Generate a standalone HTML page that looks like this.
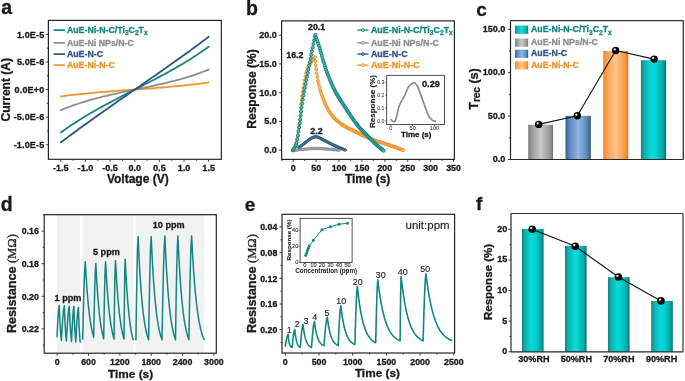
<!DOCTYPE html>
<html><head><meta charset="utf-8"><style>
html,body{margin:0;padding:0;background:#fff;width:685px;height:381px;overflow:hidden;}
svg{display:block;will-change:transform;font-family:"Liberation Sans",sans-serif;}
</style></head><body>
<svg width="685" height="381" viewBox="0 0 685 381" font-family="Liberation Sans, sans-serif"><defs><linearGradient id="gTeal" x1="0" y1="0" x2="1" y2="0"><stop offset="0" stop-color="#0b7f7f"/><stop offset="0.12" stop-color="#18a8a8"/><stop offset="0.42" stop-color="#00dcdc"/><stop offset="0.6" stop-color="#00d2d2"/><stop offset="0.88" stop-color="#00a5a5"/><stop offset="1" stop-color="#087070"/></linearGradient><linearGradient id="gGray" x1="0" y1="0" x2="1" y2="0"><stop offset="0" stop-color="#7c7c7c"/><stop offset="0.15" stop-color="#9a9a9a"/><stop offset="0.5" stop-color="#cacaca"/><stop offset="0.85" stop-color="#999999"/><stop offset="1" stop-color="#767676"/></linearGradient><linearGradient id="gBlue" x1="0" y1="0" x2="1" y2="0"><stop offset="0" stop-color="#3a5e8c"/><stop offset="0.15" stop-color="#5a86b8"/><stop offset="0.5" stop-color="#8fb6e0"/><stop offset="0.85" stop-color="#5d88b8"/><stop offset="1" stop-color="#2f5480"/></linearGradient><linearGradient id="gOrange" x1="0" y1="0" x2="1" y2="0"><stop offset="0" stop-color="#f38520"/><stop offset="0.15" stop-color="#f9a050"/><stop offset="0.5" stop-color="#ffc58e"/><stop offset="0.85" stop-color="#f99a45"/><stop offset="1" stop-color="#f07c14"/></linearGradient><radialGradient id="gBall" cx="0.4" cy="0.38" r="0.6" fx="0.36" fy="0.34"><stop offset="0" stop-color="#ffffff"/><stop offset="0.12" stop-color="#e8e8e8"/><stop offset="0.34" stop-color="#1a1a1a"/><stop offset="0.55" stop-color="#000"/><stop offset="1" stop-color="#000"/></radialGradient></defs><rect width="685" height="381" fill="#fff"/><text x="1.30" y="13.80" font-size="19.5" font-weight="bold" text-anchor="start" fill="#1a1a1a" stroke="#1a1a1a" stroke-width="0.3" >a</text>
<rect x="48.40" y="20.40" width="172.90" height="138.90" fill="none" stroke="#262626" stroke-width="1.2"/>
<line x1="45.90" y1="144.80" x2="48.40" y2="144.80" stroke="#262626" stroke-width="0.9" />
<line x1="45.90" y1="117.20" x2="48.40" y2="117.20" stroke="#262626" stroke-width="0.9" />
<line x1="45.90" y1="89.60" x2="48.40" y2="89.60" stroke="#262626" stroke-width="0.9" />
<line x1="45.90" y1="62.00" x2="48.40" y2="62.00" stroke="#262626" stroke-width="0.9" />
<line x1="45.90" y1="34.40" x2="48.40" y2="34.40" stroke="#262626" stroke-width="0.9" />
<line x1="46.90" y1="131.00" x2="48.40" y2="131.00" stroke="#262626" stroke-width="0.9" />
<line x1="46.90" y1="103.40" x2="48.40" y2="103.40" stroke="#262626" stroke-width="0.9" />
<line x1="46.90" y1="75.80" x2="48.40" y2="75.80" stroke="#262626" stroke-width="0.9" />
<line x1="46.90" y1="48.20" x2="48.40" y2="48.20" stroke="#262626" stroke-width="0.9" />
<text x="44.30" y="147.90" font-size="9.0" font-weight="bold" text-anchor="end" fill="#1a1a1a" stroke="#1a1a1a" stroke-width="0.3" letter-spacing="0.15">-1.0E-5</text>
<text x="44.30" y="120.30" font-size="9.0" font-weight="bold" text-anchor="end" fill="#1a1a1a" stroke="#1a1a1a" stroke-width="0.3" letter-spacing="0.15">-5.0E-6</text>
<text x="44.30" y="92.70" font-size="9.0" font-weight="bold" text-anchor="end" fill="#1a1a1a" stroke="#1a1a1a" stroke-width="0.3" letter-spacing="0.15">0.0E+0</text>
<text x="44.30" y="65.10" font-size="9.0" font-weight="bold" text-anchor="end" fill="#1a1a1a" stroke="#1a1a1a" stroke-width="0.3" letter-spacing="0.15">5.0E-6</text>
<text x="44.30" y="37.50" font-size="9.0" font-weight="bold" text-anchor="end" fill="#1a1a1a" stroke="#1a1a1a" stroke-width="0.3" letter-spacing="0.15">1.0E-5</text>
<line x1="60.80" y1="159.30" x2="60.80" y2="161.80" stroke="#262626" stroke-width="0.9" />
<line x1="85.45" y1="159.30" x2="85.45" y2="161.80" stroke="#262626" stroke-width="0.9" />
<line x1="110.10" y1="159.30" x2="110.10" y2="161.80" stroke="#262626" stroke-width="0.9" />
<line x1="134.75" y1="159.30" x2="134.75" y2="161.80" stroke="#262626" stroke-width="0.9" />
<line x1="159.40" y1="159.30" x2="159.40" y2="161.80" stroke="#262626" stroke-width="0.9" />
<line x1="184.05" y1="159.30" x2="184.05" y2="161.80" stroke="#262626" stroke-width="0.9" />
<line x1="208.70" y1="159.30" x2="208.70" y2="161.80" stroke="#262626" stroke-width="0.9" />
<line x1="73.12" y1="159.30" x2="73.12" y2="160.80" stroke="#262626" stroke-width="0.9" />
<line x1="97.78" y1="159.30" x2="97.78" y2="160.80" stroke="#262626" stroke-width="0.9" />
<line x1="122.42" y1="159.30" x2="122.42" y2="160.80" stroke="#262626" stroke-width="0.9" />
<line x1="147.07" y1="159.30" x2="147.07" y2="160.80" stroke="#262626" stroke-width="0.9" />
<line x1="171.72" y1="159.30" x2="171.72" y2="160.80" stroke="#262626" stroke-width="0.9" />
<line x1="196.38" y1="159.30" x2="196.38" y2="160.80" stroke="#262626" stroke-width="0.9" />
<text x="60.80" y="171.00" font-size="9.1" font-weight="bold" text-anchor="middle" fill="#1a1a1a" stroke="#1a1a1a" stroke-width="0.3" >-1.5</text>
<text x="85.45" y="171.00" font-size="9.1" font-weight="bold" text-anchor="middle" fill="#1a1a1a" stroke="#1a1a1a" stroke-width="0.3" >-1.0</text>
<text x="110.10" y="171.00" font-size="9.1" font-weight="bold" text-anchor="middle" fill="#1a1a1a" stroke="#1a1a1a" stroke-width="0.3" >-0.5</text>
<text x="134.75" y="171.00" font-size="9.1" font-weight="bold" text-anchor="middle" fill="#1a1a1a" stroke="#1a1a1a" stroke-width="0.3" >0.0</text>
<text x="159.40" y="171.00" font-size="9.1" font-weight="bold" text-anchor="middle" fill="#1a1a1a" stroke="#1a1a1a" stroke-width="0.3" >0.5</text>
<text x="184.05" y="171.00" font-size="9.1" font-weight="bold" text-anchor="middle" fill="#1a1a1a" stroke="#1a1a1a" stroke-width="0.3" >1.0</text>
<text x="208.70" y="171.00" font-size="9.1" font-weight="bold" text-anchor="middle" fill="#1a1a1a" stroke="#1a1a1a" stroke-width="0.3" >1.5</text>
<text x="137.80" y="182.80" font-size="12" font-weight="bold" text-anchor="middle" fill="#1a1a1a" stroke="#1a1a1a" stroke-width="0.3" >Voltage (V)</text>
<text x="10.00" y="89.80" font-size="12" font-weight="bold" text-anchor="middle" fill="#1a1a1a" stroke="#1a1a1a" stroke-width="0.3" transform="rotate(-90 10.0 89.8)">Current (A)</text>
<path d="M60.80,96.38 L63.27,96.06 L65.73,95.75 L68.19,95.45 L70.66,95.16 L73.12,94.87 L75.59,94.60 L78.06,94.33 L80.52,94.07 L82.98,93.82 L85.45,93.57 L87.92,93.33 L90.38,93.10 L92.84,92.87 L95.31,92.65 L97.78,92.43 L100.24,92.22 L102.70,92.01 L105.17,91.81 L107.63,91.61 L110.10,91.42 L112.56,91.23 L115.03,91.04 L117.50,90.85 L119.96,90.67 L122.42,90.49 L124.89,90.31 L127.36,90.13 L129.82,89.95 L132.28,89.78 L134.75,89.60 L137.22,89.41 L139.68,89.23 L142.14,89.04 L144.61,88.86 L147.07,88.67 L149.54,88.48 L152.00,88.28 L154.47,88.09 L156.94,87.89 L159.40,87.69 L161.86,87.49 L164.33,87.28 L166.79,87.07 L169.26,86.85 L171.72,86.63 L174.19,86.40 L176.66,86.17 L179.12,85.93 L181.59,85.69 L184.05,85.44 L186.51,85.18 L188.98,84.91 L191.44,84.64 L193.91,84.36 L196.38,84.07 L198.84,83.77 L201.31,83.46 L203.77,83.15 L206.24,82.82 L208.70,82.48" fill="none" stroke="#f39427" stroke-width="1.8" stroke-linejoin="round" stroke-linecap="round" />
<path d="M60.80,110.17 L63.27,109.16 L65.73,108.18 L68.19,107.24 L70.66,106.32 L73.12,105.43 L75.59,104.58 L78.06,103.75 L80.52,102.94 L82.98,102.16 L85.45,101.41 L87.92,100.68 L90.38,99.97 L92.84,99.28 L95.31,98.61 L97.78,97.96 L100.24,97.32 L102.70,96.70 L105.17,96.10 L107.63,95.51 L110.10,94.93 L112.56,94.37 L115.03,93.81 L117.50,93.27 L119.96,92.73 L122.42,92.20 L124.89,91.67 L127.36,91.15 L129.82,90.63 L132.28,90.11 L134.75,89.60 L137.22,89.10 L139.68,88.60 L142.14,88.09 L144.61,87.59 L147.07,87.07 L149.54,86.56 L152.00,86.03 L154.47,85.50 L156.94,84.96 L159.40,84.41 L161.86,83.85 L164.33,83.27 L166.79,82.69 L169.26,82.09 L171.72,81.47 L174.19,80.83 L176.66,80.18 L179.12,79.51 L181.59,78.82 L184.05,78.11 L186.51,77.38 L188.98,76.62 L191.44,75.84 L193.91,75.03 L196.38,74.19 L198.84,73.33 L201.31,72.44 L203.77,71.52 L206.24,70.57 L208.70,69.58" fill="none" stroke="#8e8e8e" stroke-width="1.8" stroke-linejoin="round" stroke-linecap="round" />
<path d="M60.80,132.41 L63.27,130.66 L65.73,128.94 L68.19,127.25 L70.66,125.60 L73.12,123.97 L75.59,122.37 L78.06,120.80 L80.52,119.25 L82.98,117.73 L85.45,116.24 L87.92,114.77 L90.38,113.31 L92.84,111.88 L95.31,110.47 L97.78,109.08 L100.24,107.70 L102.70,106.34 L105.17,105.00 L107.63,103.67 L110.10,102.35 L112.56,101.04 L115.03,99.74 L117.50,98.46 L119.96,97.18 L122.42,95.90 L124.89,94.64 L127.36,93.37 L129.82,92.11 L132.28,90.86 L134.75,89.60 L137.22,88.34 L139.68,87.09 L142.14,85.83 L144.61,84.56 L147.07,83.30 L149.54,82.02 L152.00,80.74 L154.47,79.46 L156.94,78.16 L159.40,76.85 L161.86,75.53 L164.33,74.20 L166.79,72.86 L169.26,71.50 L171.72,70.12 L174.19,68.73 L176.66,67.32 L179.12,65.89 L181.59,64.43 L184.05,62.96 L186.51,61.47 L188.98,59.95 L191.44,58.40 L193.91,56.83 L196.38,55.23 L198.84,53.60 L201.31,51.95 L203.77,50.26 L206.24,48.54 L208.70,46.79" fill="none" stroke="#148580" stroke-width="1.8" stroke-linejoin="round" stroke-linecap="round" />
<path d="M60.80,142.42 L63.27,140.56 L65.73,138.71 L68.19,136.87 L70.66,135.04 L73.12,133.21 L75.59,131.40 L78.06,129.59 L80.52,127.80 L82.98,126.01 L85.45,124.23 L87.92,122.45 L90.38,120.68 L92.84,118.92 L95.31,117.17 L97.78,115.42 L100.24,113.67 L102.70,111.93 L105.17,110.20 L107.63,108.46 L110.10,106.74 L112.56,105.01 L115.03,103.29 L117.50,101.58 L119.96,99.86 L122.42,98.15 L124.89,96.44 L127.36,94.73 L129.82,93.02 L132.28,91.31 L134.75,89.60 L137.22,87.89 L139.68,86.18 L142.14,84.47 L144.61,82.76 L147.07,81.05 L149.54,79.34 L152.00,77.62 L154.47,75.91 L156.94,74.19 L159.40,72.46 L161.86,70.74 L164.33,69.00 L166.79,67.27 L169.26,65.53 L171.72,63.78 L174.19,62.03 L176.66,60.28 L179.12,58.52 L181.59,56.75 L184.05,54.97 L186.51,53.19 L188.98,51.40 L191.44,49.61 L193.91,47.80 L196.38,45.99 L198.84,44.16 L201.31,42.33 L203.77,40.49 L206.24,38.64 L208.70,36.78" fill="none" stroke="#2f5480" stroke-width="1.8" stroke-linejoin="round" stroke-linecap="round" />
<line x1="53.60" y1="30.10" x2="64.90" y2="30.10" stroke="#148580" stroke-width="1.7" />
<text x="66.90" y="32.70" font-size="8.8" font-weight="bold" text-anchor="start" fill="#148580" stroke="#148580" stroke-width="0.3" >AuE-Ni-N-C/Ti<tspan font-size="6.6" dy="2.5">3</tspan><tspan dy="-2.5">C</tspan><tspan font-size="6.6" dy="2.5">2</tspan><tspan dy="-2.5">T</tspan><tspan font-size="6.6" dy="2.5">x</tspan></text>
<line x1="53.60" y1="42.90" x2="64.90" y2="42.90" stroke="#8e8e8e" stroke-width="1.7" />
<text x="66.90" y="45.50" font-size="8.8" font-weight="bold" text-anchor="start" fill="#8e8e8e" stroke="#8e8e8e" stroke-width="0.3" >AuE-Ni NPs/N-C</text>
<line x1="53.60" y1="54.10" x2="64.90" y2="54.10" stroke="#2f5480" stroke-width="1.7" />
<text x="66.90" y="56.70" font-size="8.8" font-weight="bold" text-anchor="start" fill="#2f5480" stroke="#2f5480" stroke-width="0.3" >AuE-N-C</text>
<line x1="53.60" y1="65.10" x2="64.90" y2="65.10" stroke="#f39427" stroke-width="1.7" />
<text x="66.90" y="67.70" font-size="8.8" font-weight="bold" text-anchor="start" fill="#f39427" stroke="#f39427" stroke-width="0.3" >AuE-Ni-N-C</text>
<text x="246.00" y="14.70" font-size="19.5" font-weight="bold" text-anchor="start" fill="#1a1a1a" stroke="#1a1a1a" stroke-width="0.3" >b</text>
<rect x="281.60" y="20.90" width="172.80" height="138.50" fill="none" stroke="#262626" stroke-width="1.2"/>
<line x1="279.10" y1="150.20" x2="281.60" y2="150.20" stroke="#262626" stroke-width="0.9" />
<line x1="279.10" y1="121.45" x2="281.60" y2="121.45" stroke="#262626" stroke-width="0.9" />
<line x1="279.10" y1="92.70" x2="281.60" y2="92.70" stroke="#262626" stroke-width="0.9" />
<line x1="279.10" y1="63.95" x2="281.60" y2="63.95" stroke="#262626" stroke-width="0.9" />
<line x1="279.10" y1="35.20" x2="281.60" y2="35.20" stroke="#262626" stroke-width="0.9" />
<line x1="280.10" y1="135.82" x2="281.60" y2="135.82" stroke="#262626" stroke-width="0.9" />
<line x1="280.10" y1="107.07" x2="281.60" y2="107.07" stroke="#262626" stroke-width="0.9" />
<line x1="280.10" y1="78.32" x2="281.60" y2="78.32" stroke="#262626" stroke-width="0.9" />
<line x1="280.10" y1="49.57" x2="281.60" y2="49.57" stroke="#262626" stroke-width="0.9" />
<text x="276.80" y="153.20" font-size="9" font-weight="bold" text-anchor="end" fill="#1a1a1a" stroke="#1a1a1a" stroke-width="0.3" >0.0</text>
<text x="276.80" y="124.45" font-size="9" font-weight="bold" text-anchor="end" fill="#1a1a1a" stroke="#1a1a1a" stroke-width="0.3" >5.0</text>
<text x="276.80" y="95.70" font-size="9" font-weight="bold" text-anchor="end" fill="#1a1a1a" stroke="#1a1a1a" stroke-width="0.3" >10.0</text>
<text x="276.80" y="66.95" font-size="9" font-weight="bold" text-anchor="end" fill="#1a1a1a" stroke="#1a1a1a" stroke-width="0.3" >15.0</text>
<text x="276.80" y="38.20" font-size="9" font-weight="bold" text-anchor="end" fill="#1a1a1a" stroke="#1a1a1a" stroke-width="0.3" >20.0</text>
<line x1="293.25" y1="159.40" x2="293.25" y2="161.90" stroke="#262626" stroke-width="0.9" />
<line x1="316.15" y1="159.40" x2="316.15" y2="161.90" stroke="#262626" stroke-width="0.9" />
<line x1="339.05" y1="159.40" x2="339.05" y2="161.90" stroke="#262626" stroke-width="0.9" />
<line x1="361.95" y1="159.40" x2="361.95" y2="161.90" stroke="#262626" stroke-width="0.9" />
<line x1="384.85" y1="159.40" x2="384.85" y2="161.90" stroke="#262626" stroke-width="0.9" />
<line x1="407.75" y1="159.40" x2="407.75" y2="161.90" stroke="#262626" stroke-width="0.9" />
<line x1="430.65" y1="159.40" x2="430.65" y2="161.90" stroke="#262626" stroke-width="0.9" />
<line x1="453.55" y1="159.40" x2="453.55" y2="161.90" stroke="#262626" stroke-width="0.9" />
<line x1="281.80" y1="159.40" x2="281.80" y2="160.90" stroke="#262626" stroke-width="0.9" />
<line x1="304.70" y1="159.40" x2="304.70" y2="160.90" stroke="#262626" stroke-width="0.9" />
<line x1="327.60" y1="159.40" x2="327.60" y2="160.90" stroke="#262626" stroke-width="0.9" />
<line x1="350.50" y1="159.40" x2="350.50" y2="160.90" stroke="#262626" stroke-width="0.9" />
<line x1="373.40" y1="159.40" x2="373.40" y2="160.90" stroke="#262626" stroke-width="0.9" />
<line x1="396.30" y1="159.40" x2="396.30" y2="160.90" stroke="#262626" stroke-width="0.9" />
<line x1="419.20" y1="159.40" x2="419.20" y2="160.90" stroke="#262626" stroke-width="0.9" />
<line x1="442.10" y1="159.40" x2="442.10" y2="160.90" stroke="#262626" stroke-width="0.9" />
<text x="293.25" y="170.70" font-size="8.9" font-weight="bold" text-anchor="middle" fill="#1a1a1a" stroke="#1a1a1a" stroke-width="0.3" >0</text>
<text x="316.15" y="170.70" font-size="8.9" font-weight="bold" text-anchor="middle" fill="#1a1a1a" stroke="#1a1a1a" stroke-width="0.3" >50</text>
<text x="339.05" y="170.70" font-size="8.9" font-weight="bold" text-anchor="middle" fill="#1a1a1a" stroke="#1a1a1a" stroke-width="0.3" >100</text>
<text x="361.95" y="170.70" font-size="8.9" font-weight="bold" text-anchor="middle" fill="#1a1a1a" stroke="#1a1a1a" stroke-width="0.3" >150</text>
<text x="384.85" y="170.70" font-size="8.9" font-weight="bold" text-anchor="middle" fill="#1a1a1a" stroke="#1a1a1a" stroke-width="0.3" >200</text>
<text x="407.75" y="170.70" font-size="8.9" font-weight="bold" text-anchor="middle" fill="#1a1a1a" stroke="#1a1a1a" stroke-width="0.3" >250</text>
<text x="430.65" y="170.70" font-size="8.9" font-weight="bold" text-anchor="middle" fill="#1a1a1a" stroke="#1a1a1a" stroke-width="0.3" >300</text>
<text x="453.55" y="170.70" font-size="8.9" font-weight="bold" text-anchor="middle" fill="#1a1a1a" stroke="#1a1a1a" stroke-width="0.3" >350</text>
<text x="367.60" y="183.10" font-size="11.9" font-weight="bold" text-anchor="middle" fill="#1a1a1a" stroke="#1a1a1a" stroke-width="0.3" >Time (s)</text>
<text x="255.60" y="89.00" font-size="12" font-weight="bold" text-anchor="middle" fill="#1a1a1a" stroke="#1a1a1a" stroke-width="0.3" transform="rotate(-90 255.6 89.0)">Response (%)</text>
<path d="M293.40,150.60 L293.69,150.56 L294.02,150.51 L294.39,150.45 L294.80,150.38 L295.25,150.30 L295.76,150.22 L296.31,150.14 L296.93,150.06 L297.60,149.97 L298.33,149.88 L299.13,149.79 L300.00,149.70 L300.96,149.60 L302.03,149.49 L303.18,149.37 L304.41,149.25 L305.70,149.12 L307.03,148.99 L308.39,148.87 L309.77,148.76 L311.14,148.67 L312.50,148.59 L313.82,148.53 L315.10,148.50 L316.37,148.50 L317.66,148.52 L318.96,148.55 L320.28,148.61 L321.59,148.68 L322.89,148.76 L324.18,148.85 L325.43,148.94 L326.65,149.04 L327.83,149.13 L328.94,149.22 L330.00,149.30 L331.02,149.38 L332.02,149.47 L333.00,149.56 L333.95,149.66 L334.86,149.75 L335.73,149.85 L336.55,149.94 L337.31,150.03 L338.00,150.12 L338.62,150.19 L339.15,150.25 L339.60,150.30" fill="none" stroke="#8a8a8a" stroke-width="1.6" stroke-linejoin="round" stroke-linecap="round" />
<circle cx="293.40" cy="150.60" r="1.1" fill="#c8c8c8" stroke="#8a8a8a" stroke-width="0.85"/>
<circle cx="294.39" cy="150.45" r="1.1" fill="#c8c8c8" stroke="#8a8a8a" stroke-width="0.85"/>
<circle cx="295.25" cy="150.30" r="1.1" fill="#c8c8c8" stroke="#8a8a8a" stroke-width="0.85"/>
<circle cx="296.03" cy="150.18" r="1.1" fill="#c8c8c8" stroke="#8a8a8a" stroke-width="0.85"/>
<circle cx="296.93" cy="150.06" r="1.1" fill="#c8c8c8" stroke="#8a8a8a" stroke-width="0.85"/>
<circle cx="297.84" cy="149.94" r="1.1" fill="#c8c8c8" stroke="#8a8a8a" stroke-width="0.85"/>
<circle cx="298.73" cy="149.83" r="1.1" fill="#c8c8c8" stroke="#8a8a8a" stroke-width="0.85"/>
<circle cx="299.57" cy="149.74" r="1.1" fill="#c8c8c8" stroke="#8a8a8a" stroke-width="0.85"/>
<circle cx="300.48" cy="149.65" r="1.1" fill="#c8c8c8" stroke="#8a8a8a" stroke-width="0.85"/>
<circle cx="301.17" cy="149.58" r="1.1" fill="#c8c8c8" stroke="#8a8a8a" stroke-width="0.85"/>
<circle cx="302.03" cy="149.49" r="1.1" fill="#c8c8c8" stroke="#8a8a8a" stroke-width="0.85"/>
<circle cx="302.72" cy="149.42" r="1.1" fill="#c8c8c8" stroke="#8a8a8a" stroke-width="0.85"/>
<circle cx="303.59" cy="149.33" r="1.1" fill="#c8c8c8" stroke="#8a8a8a" stroke-width="0.85"/>
<circle cx="304.41" cy="149.25" r="1.1" fill="#c8c8c8" stroke="#8a8a8a" stroke-width="0.85"/>
<circle cx="305.27" cy="149.16" r="1.1" fill="#c8c8c8" stroke="#8a8a8a" stroke-width="0.85"/>
<circle cx="306.14" cy="149.08" r="1.1" fill="#c8c8c8" stroke="#8a8a8a" stroke-width="0.85"/>
<circle cx="307.03" cy="148.99" r="1.1" fill="#c8c8c8" stroke="#8a8a8a" stroke-width="0.85"/>
<circle cx="307.94" cy="148.91" r="1.1" fill="#c8c8c8" stroke="#8a8a8a" stroke-width="0.85"/>
<circle cx="308.85" cy="148.84" r="1.1" fill="#c8c8c8" stroke="#8a8a8a" stroke-width="0.85"/>
<circle cx="309.77" cy="148.76" r="1.1" fill="#c8c8c8" stroke="#8a8a8a" stroke-width="0.85"/>
<circle cx="310.68" cy="148.70" r="1.1" fill="#c8c8c8" stroke="#8a8a8a" stroke-width="0.85"/>
<circle cx="311.59" cy="148.64" r="1.1" fill="#c8c8c8" stroke="#8a8a8a" stroke-width="0.85"/>
<circle cx="312.50" cy="148.59" r="1.1" fill="#c8c8c8" stroke="#8a8a8a" stroke-width="0.85"/>
<circle cx="313.38" cy="148.55" r="1.1" fill="#c8c8c8" stroke="#8a8a8a" stroke-width="0.85"/>
<circle cx="314.25" cy="148.52" r="1.1" fill="#c8c8c8" stroke="#8a8a8a" stroke-width="0.85"/>
<circle cx="315.10" cy="148.50" r="1.1" fill="#c8c8c8" stroke="#8a8a8a" stroke-width="0.85"/>
<circle cx="315.94" cy="148.50" r="1.1" fill="#c8c8c8" stroke="#8a8a8a" stroke-width="0.85"/>
<circle cx="316.80" cy="148.50" r="1.1" fill="#c8c8c8" stroke="#8a8a8a" stroke-width="0.85"/>
<circle cx="317.66" cy="148.52" r="1.1" fill="#c8c8c8" stroke="#8a8a8a" stroke-width="0.85"/>
<circle cx="318.53" cy="148.54" r="1.1" fill="#c8c8c8" stroke="#8a8a8a" stroke-width="0.85"/>
<circle cx="319.40" cy="148.57" r="1.1" fill="#c8c8c8" stroke="#8a8a8a" stroke-width="0.85"/>
<circle cx="320.28" cy="148.61" r="1.1" fill="#c8c8c8" stroke="#8a8a8a" stroke-width="0.85"/>
<circle cx="321.15" cy="148.66" r="1.1" fill="#c8c8c8" stroke="#8a8a8a" stroke-width="0.85"/>
<circle cx="322.03" cy="148.71" r="1.1" fill="#c8c8c8" stroke="#8a8a8a" stroke-width="0.85"/>
<circle cx="322.89" cy="148.76" r="1.1" fill="#c8c8c8" stroke="#8a8a8a" stroke-width="0.85"/>
<circle cx="323.75" cy="148.82" r="1.1" fill="#c8c8c8" stroke="#8a8a8a" stroke-width="0.85"/>
<circle cx="324.60" cy="148.88" r="1.1" fill="#c8c8c8" stroke="#8a8a8a" stroke-width="0.85"/>
<circle cx="325.43" cy="148.94" r="1.1" fill="#c8c8c8" stroke="#8a8a8a" stroke-width="0.85"/>
<circle cx="326.25" cy="149.01" r="1.1" fill="#c8c8c8" stroke="#8a8a8a" stroke-width="0.85"/>
<circle cx="327.12" cy="149.08" r="1.1" fill="#c8c8c8" stroke="#8a8a8a" stroke-width="0.85"/>
<circle cx="327.83" cy="149.13" r="1.1" fill="#c8c8c8" stroke="#8a8a8a" stroke-width="0.85"/>
<circle cx="328.72" cy="149.20" r="1.1" fill="#c8c8c8" stroke="#8a8a8a" stroke-width="0.85"/>
<circle cx="329.58" cy="149.27" r="1.1" fill="#c8c8c8" stroke="#8a8a8a" stroke-width="0.85"/>
<circle cx="330.41" cy="149.33" r="1.1" fill="#c8c8c8" stroke="#8a8a8a" stroke-width="0.85"/>
<circle cx="331.22" cy="149.40" r="1.1" fill="#c8c8c8" stroke="#8a8a8a" stroke-width="0.85"/>
<circle cx="332.02" cy="149.47" r="1.1" fill="#c8c8c8" stroke="#8a8a8a" stroke-width="0.85"/>
<circle cx="332.75" cy="149.54" r="1.1" fill="#c8c8c8" stroke="#8a8a8a" stroke-width="0.85"/>
<circle cx="333.47" cy="149.61" r="1.1" fill="#c8c8c8" stroke="#8a8a8a" stroke-width="0.85"/>
<circle cx="334.18" cy="149.68" r="1.1" fill="#c8c8c8" stroke="#8a8a8a" stroke-width="0.85"/>
<circle cx="335.08" cy="149.78" r="1.1" fill="#c8c8c8" stroke="#8a8a8a" stroke-width="0.85"/>
<circle cx="335.94" cy="149.87" r="1.1" fill="#c8c8c8" stroke="#8a8a8a" stroke-width="0.85"/>
<circle cx="336.80" cy="149.97" r="1.1" fill="#c8c8c8" stroke="#8a8a8a" stroke-width="0.85"/>
<circle cx="337.54" cy="150.06" r="1.1" fill="#c8c8c8" stroke="#8a8a8a" stroke-width="0.85"/>
<circle cx="338.41" cy="150.16" r="1.1" fill="#c8c8c8" stroke="#8a8a8a" stroke-width="0.85"/>
<circle cx="339.15" cy="150.25" r="1.1" fill="#c8c8c8" stroke="#8a8a8a" stroke-width="0.85"/>
<path d="M298.90,147.20 L299.09,147.08 L299.33,146.93 L299.60,146.76 L299.90,146.57 L300.23,146.36 L300.59,146.14 L300.96,145.90 L301.36,145.64 L301.76,145.37 L302.17,145.09 L302.59,144.80 L303.00,144.50 L303.43,144.18 L303.89,143.82 L304.38,143.43 L304.89,143.02 L305.40,142.60 L305.93,142.18 L306.45,141.75 L306.96,141.33 L307.46,140.93 L307.94,140.56 L308.38,140.21 L308.80,139.90 L309.18,139.62 L309.55,139.37 L309.89,139.13 L310.21,138.91 L310.52,138.70 L310.82,138.51 L311.11,138.34 L311.39,138.17 L311.67,138.02 L311.94,137.87 L312.22,137.73 L312.50,137.60 L312.78,137.48 L313.05,137.36 L313.32,137.26 L313.59,137.17 L313.84,137.09 L314.10,137.02 L314.35,136.97 L314.60,136.91 L314.85,136.87 L315.10,136.84 L315.35,136.82 L315.60,136.80 L315.84,136.79 L316.06,136.78 L316.27,136.77 L316.48,136.77 L316.68,136.78 L316.89,136.81 L317.10,136.84 L317.33,136.89 L317.58,136.96 L317.86,137.05 L318.16,137.16 L318.50,137.30 L318.86,137.46 L319.23,137.64 L319.61,137.84 L320.00,138.06 L320.41,138.29 L320.85,138.54 L321.31,138.81 L321.81,139.10 L322.34,139.40 L322.92,139.72 L323.53,140.05 L324.20,140.40 L324.93,140.77 L325.72,141.18 L326.56,141.61 L327.45,142.06 L328.38,142.53 L329.33,143.01 L330.30,143.50 L331.28,143.98 L332.26,144.46 L333.23,144.93 L334.18,145.37 L335.10,145.80 L336.04,146.22 L337.03,146.65 L338.06,147.09 L339.11,147.53 L340.15,147.97 L341.18,148.39 L342.17,148.79 L343.10,149.17 L343.96,149.51 L344.73,149.82 L345.38,150.09 L345.90,150.30" fill="none" stroke="#2f5480" stroke-width="1.2" stroke-linejoin="round" stroke-linecap="round" />
<circle cx="298.90" cy="147.20" r="1.2" fill="#6f8fb8" stroke="#2f5480" stroke-width="0.85"/>
<circle cx="299.60" cy="146.76" r="1.2" fill="#6f8fb8" stroke="#2f5480" stroke-width="0.85"/>
<circle cx="300.41" cy="146.25" r="1.2" fill="#6f8fb8" stroke="#2f5480" stroke-width="0.85"/>
<circle cx="301.16" cy="145.77" r="1.2" fill="#6f8fb8" stroke="#2f5480" stroke-width="0.85"/>
<circle cx="301.97" cy="145.23" r="1.2" fill="#6f8fb8" stroke="#2f5480" stroke-width="0.85"/>
<circle cx="302.79" cy="144.65" r="1.2" fill="#6f8fb8" stroke="#2f5480" stroke-width="0.85"/>
<circle cx="303.66" cy="144.00" r="1.2" fill="#6f8fb8" stroke="#2f5480" stroke-width="0.85"/>
<circle cx="304.38" cy="143.43" r="1.2" fill="#6f8fb8" stroke="#2f5480" stroke-width="0.85"/>
<circle cx="305.23" cy="142.74" r="1.2" fill="#6f8fb8" stroke="#2f5480" stroke-width="0.85"/>
<circle cx="305.93" cy="142.18" r="1.2" fill="#6f8fb8" stroke="#2f5480" stroke-width="0.85"/>
<circle cx="306.62" cy="141.61" r="1.2" fill="#6f8fb8" stroke="#2f5480" stroke-width="0.85"/>
<circle cx="307.46" cy="140.93" r="1.2" fill="#6f8fb8" stroke="#2f5480" stroke-width="0.85"/>
<circle cx="308.16" cy="140.38" r="1.2" fill="#6f8fb8" stroke="#2f5480" stroke-width="0.85"/>
<circle cx="308.99" cy="139.76" r="1.2" fill="#6f8fb8" stroke="#2f5480" stroke-width="0.85"/>
<circle cx="309.72" cy="139.25" r="1.2" fill="#6f8fb8" stroke="#2f5480" stroke-width="0.85"/>
<circle cx="310.52" cy="138.70" r="1.2" fill="#6f8fb8" stroke="#2f5480" stroke-width="0.85"/>
<circle cx="311.39" cy="138.17" r="1.2" fill="#6f8fb8" stroke="#2f5480" stroke-width="0.85"/>
<circle cx="312.22" cy="137.73" r="1.2" fill="#6f8fb8" stroke="#2f5480" stroke-width="0.85"/>
<circle cx="313.05" cy="137.36" r="1.2" fill="#6f8fb8" stroke="#2f5480" stroke-width="0.85"/>
<circle cx="313.84" cy="137.09" r="1.2" fill="#6f8fb8" stroke="#2f5480" stroke-width="0.85"/>
<circle cx="314.60" cy="136.91" r="1.2" fill="#6f8fb8" stroke="#2f5480" stroke-width="0.85"/>
<circle cx="315.35" cy="136.82" r="1.2" fill="#6f8fb8" stroke="#2f5480" stroke-width="0.85"/>
<circle cx="316.06" cy="136.78" r="1.2" fill="#6f8fb8" stroke="#2f5480" stroke-width="0.85"/>
<circle cx="316.89" cy="136.81" r="1.2" fill="#6f8fb8" stroke="#2f5480" stroke-width="0.85"/>
<circle cx="317.58" cy="136.96" r="1.2" fill="#6f8fb8" stroke="#2f5480" stroke-width="0.85"/>
<circle cx="318.50" cy="137.30" r="1.2" fill="#6f8fb8" stroke="#2f5480" stroke-width="0.85"/>
<circle cx="319.23" cy="137.64" r="1.2" fill="#6f8fb8" stroke="#2f5480" stroke-width="0.85"/>
<circle cx="320.00" cy="138.06" r="1.2" fill="#6f8fb8" stroke="#2f5480" stroke-width="0.85"/>
<circle cx="320.85" cy="138.54" r="1.2" fill="#6f8fb8" stroke="#2f5480" stroke-width="0.85"/>
<circle cx="321.56" cy="138.96" r="1.2" fill="#6f8fb8" stroke="#2f5480" stroke-width="0.85"/>
<circle cx="322.34" cy="139.40" r="1.2" fill="#6f8fb8" stroke="#2f5480" stroke-width="0.85"/>
<circle cx="323.12" cy="139.83" r="1.2" fill="#6f8fb8" stroke="#2f5480" stroke-width="0.85"/>
<circle cx="323.98" cy="140.28" r="1.2" fill="#6f8fb8" stroke="#2f5480" stroke-width="0.85"/>
<circle cx="324.74" cy="140.68" r="1.2" fill="#6f8fb8" stroke="#2f5480" stroke-width="0.85"/>
<circle cx="325.52" cy="141.08" r="1.2" fill="#6f8fb8" stroke="#2f5480" stroke-width="0.85"/>
<circle cx="326.35" cy="141.50" r="1.2" fill="#6f8fb8" stroke="#2f5480" stroke-width="0.85"/>
<circle cx="327.23" cy="141.95" r="1.2" fill="#6f8fb8" stroke="#2f5480" stroke-width="0.85"/>
<circle cx="328.01" cy="142.34" r="1.2" fill="#6f8fb8" stroke="#2f5480" stroke-width="0.85"/>
<circle cx="328.76" cy="142.72" r="1.2" fill="#6f8fb8" stroke="#2f5480" stroke-width="0.85"/>
<circle cx="329.53" cy="143.11" r="1.2" fill="#6f8fb8" stroke="#2f5480" stroke-width="0.85"/>
<circle cx="330.30" cy="143.50" r="1.2" fill="#6f8fb8" stroke="#2f5480" stroke-width="0.85"/>
<circle cx="331.09" cy="143.88" r="1.2" fill="#6f8fb8" stroke="#2f5480" stroke-width="0.85"/>
<circle cx="331.87" cy="144.27" r="1.2" fill="#6f8fb8" stroke="#2f5480" stroke-width="0.85"/>
<circle cx="332.65" cy="144.65" r="1.2" fill="#6f8fb8" stroke="#2f5480" stroke-width="0.85"/>
<circle cx="333.42" cy="145.02" r="1.2" fill="#6f8fb8" stroke="#2f5480" stroke-width="0.85"/>
<circle cx="334.18" cy="145.37" r="1.2" fill="#6f8fb8" stroke="#2f5480" stroke-width="0.85"/>
<circle cx="334.92" cy="145.71" r="1.2" fill="#6f8fb8" stroke="#2f5480" stroke-width="0.85"/>
<circle cx="335.66" cy="146.05" r="1.2" fill="#6f8fb8" stroke="#2f5480" stroke-width="0.85"/>
<circle cx="336.44" cy="146.39" r="1.2" fill="#6f8fb8" stroke="#2f5480" stroke-width="0.85"/>
<circle cx="337.24" cy="146.74" r="1.2" fill="#6f8fb8" stroke="#2f5480" stroke-width="0.85"/>
<circle cx="338.06" cy="147.09" r="1.2" fill="#6f8fb8" stroke="#2f5480" stroke-width="0.85"/>
<circle cx="338.90" cy="147.45" r="1.2" fill="#6f8fb8" stroke="#2f5480" stroke-width="0.85"/>
<circle cx="339.74" cy="147.79" r="1.2" fill="#6f8fb8" stroke="#2f5480" stroke-width="0.85"/>
<circle cx="340.56" cy="148.14" r="1.2" fill="#6f8fb8" stroke="#2f5480" stroke-width="0.85"/>
<circle cx="341.38" cy="148.47" r="1.2" fill="#6f8fb8" stroke="#2f5480" stroke-width="0.85"/>
<circle cx="342.17" cy="148.79" r="1.2" fill="#6f8fb8" stroke="#2f5480" stroke-width="0.85"/>
<circle cx="342.92" cy="149.09" r="1.2" fill="#6f8fb8" stroke="#2f5480" stroke-width="0.85"/>
<circle cx="343.75" cy="149.43" r="1.2" fill="#6f8fb8" stroke="#2f5480" stroke-width="0.85"/>
<circle cx="344.54" cy="149.74" r="1.2" fill="#6f8fb8" stroke="#2f5480" stroke-width="0.85"/>
<circle cx="345.38" cy="150.09" r="1.2" fill="#6f8fb8" stroke="#2f5480" stroke-width="0.85"/>
<path d="M292.50,150.50 L292.60,150.39 L292.71,150.27 L292.85,150.13 L293.00,149.99 L293.17,149.82 L293.34,149.64 L293.53,149.42 L293.72,149.18 L293.92,148.90 L294.11,148.58 L294.31,148.21 L294.50,147.80 L294.69,147.37 L294.88,146.93 L295.08,146.48 L295.28,146.01 L295.48,145.50 L295.69,144.95 L295.90,144.34 L296.11,143.66 L296.33,142.89 L296.55,142.04 L296.77,141.08 L297.00,140.00 L297.24,138.80 L297.48,137.48 L297.74,136.05 L298.00,134.53 L298.27,132.93 L298.53,131.26 L298.80,129.54 L299.06,127.77 L299.31,125.97 L299.55,124.15 L299.78,122.32 L300.00,120.50 L300.19,118.66 L300.36,116.76 L300.51,114.82 L300.65,112.84 L300.78,110.83 L300.91,108.79 L301.05,106.74 L301.19,104.68 L301.35,102.62 L301.54,100.56 L301.75,98.52 L302.00,96.50 L302.28,94.44 L302.60,92.31 L302.94,90.11 L303.30,87.90 L303.68,85.68 L304.07,83.48 L304.47,81.34 L304.87,79.27 L305.26,77.31 L305.66,75.47 L306.04,73.80 L306.40,72.30 L306.75,70.99 L307.11,69.84 L307.46,68.84 L307.80,67.95 L308.15,67.17 L308.49,66.47 L308.84,65.84 L309.17,65.26 L309.51,64.70 L309.84,64.15 L310.17,63.59 L310.50,63.00 L310.83,62.40 L311.17,61.82 L311.52,61.27 L311.87,60.74 L312.22,60.24 L312.56,59.76 L312.88,59.32 L313.20,58.91 L313.49,58.53 L313.76,58.18 L313.99,57.87 L314.20,57.60 L314.37,57.36 L314.51,57.16 L314.62,56.99 L314.70,56.86 L314.76,56.75 L314.81,56.68 L314.85,56.64 L314.88,56.63 L314.90,56.66 L314.93,56.71 L314.96,56.79 L315.00,56.90 L315.04,57.05 L315.08,57.26 L315.11,57.50 L315.14,57.79 L315.16,58.10 L315.18,58.44 L315.20,58.80 L315.22,59.17 L315.24,59.54 L315.26,59.90 L315.28,60.26 L315.30,60.60 L315.32,60.92 L315.34,61.24 L315.36,61.54 L315.37,61.85 L315.39,62.16 L315.41,62.48 L315.43,62.81 L315.45,63.16 L315.48,63.53 L315.51,63.92 L315.55,64.34 L315.60,64.80 L315.66,65.28 L315.72,65.79 L315.78,66.31 L315.86,66.86 L315.93,67.42 L316.01,68.01 L316.10,68.61 L316.19,69.24 L316.28,69.90 L316.38,70.57 L316.49,71.27 L316.60,72.00 L316.71,72.76 L316.83,73.55 L316.94,74.36 L317.06,75.21 L317.18,76.08 L317.31,76.97 L317.45,77.87 L317.60,78.79 L317.75,79.71 L317.92,80.64 L318.10,81.57 L318.30,82.50 L318.51,83.43 L318.72,84.37 L318.95,85.31 L319.18,86.27 L319.42,87.23 L319.68,88.20 L319.94,89.18 L320.22,90.17 L320.52,91.16 L320.83,92.17 L321.16,93.18 L321.50,94.20 L321.86,95.24 L322.24,96.31 L322.64,97.40 L323.06,98.51 L323.48,99.63 L323.92,100.74 L324.38,101.86 L324.84,102.96 L325.32,104.04 L325.81,105.09 L326.30,106.12 L326.80,107.10 L327.30,108.05 L327.81,108.98 L328.31,109.88 L328.83,110.76 L329.35,111.63 L329.89,112.47 L330.44,113.31 L331.02,114.13 L331.62,114.93 L332.25,115.73 L332.91,116.52 L333.60,117.30 L334.34,118.08 L335.12,118.85 L335.93,119.62 L336.78,120.38 L337.65,121.13 L338.54,121.86 L339.44,122.58 L340.34,123.27 L341.25,123.95 L342.15,124.59 L343.03,125.21 L343.90,125.80 L344.75,126.35 L345.61,126.86 L346.46,127.33 L347.31,127.78 L348.16,128.21 L349.01,128.61 L349.86,129.01 L350.70,129.40 L351.55,129.78 L352.40,130.18 L353.25,130.58 L354.10,131.00 L354.95,131.43 L355.80,131.87 L356.65,132.30 L357.50,132.74 L358.34,133.18 L359.19,133.61 L360.04,134.04 L360.89,134.47 L361.74,134.89 L362.59,135.30 L363.45,135.71 L364.30,136.10 L365.16,136.48 L366.01,136.86 L366.87,137.23 L367.73,137.60 L368.59,137.95 L369.45,138.31 L370.31,138.65 L371.17,138.99 L372.03,139.33 L372.89,139.66 L373.74,139.98 L374.60,140.30 L375.45,140.61 L376.30,140.91 L377.15,141.21 L378.00,141.49 L378.85,141.77 L379.70,142.05 L380.55,142.32 L381.40,142.60 L382.25,142.87 L383.10,143.14 L383.95,143.42 L384.80,143.70 L385.66,143.98 L386.54,144.27 L387.42,144.56 L388.31,144.84 L389.20,145.13 L390.09,145.42 L390.97,145.70 L391.83,145.99 L392.68,146.27 L393.52,146.55 L394.32,146.83 L395.10,147.10 L395.87,147.38 L396.66,147.67 L397.45,147.97 L398.23,148.27 L399.00,148.57 L399.74,148.86 L400.45,149.14 L401.11,149.41 L401.72,149.65 L402.26,149.87 L402.72,150.05 L403.10,150.20" fill="none" stroke="#f39427" stroke-width="0.9" stroke-linejoin="round" stroke-linecap="round" />
<circle cx="292.50" cy="150.50" r="1.4" fill="#fac58a" stroke="#f39427" stroke-width="1.0"/>
<circle cx="293.34" cy="149.64" r="1.4" fill="#fac58a" stroke="#f39427" stroke-width="1.0"/>
<circle cx="294.11" cy="148.58" r="1.4" fill="#fac58a" stroke="#f39427" stroke-width="1.0"/>
<circle cx="294.88" cy="146.93" r="1.4" fill="#fac58a" stroke="#f39427" stroke-width="1.0"/>
<circle cx="295.58" cy="145.23" r="1.4" fill="#fac58a" stroke="#f39427" stroke-width="1.0"/>
<circle cx="296.33" cy="142.89" r="1.4" fill="#fac58a" stroke="#f39427" stroke-width="1.0"/>
<circle cx="297.04" cy="139.80" r="1.4" fill="#fac58a" stroke="#f39427" stroke-width="1.0"/>
<circle cx="297.74" cy="136.05" r="1.4" fill="#fac58a" stroke="#f39427" stroke-width="1.0"/>
<circle cx="298.40" cy="132.10" r="1.4" fill="#fac58a" stroke="#f39427" stroke-width="1.0"/>
<circle cx="298.99" cy="128.21" r="1.4" fill="#fac58a" stroke="#f39427" stroke-width="1.0"/>
<circle cx="299.55" cy="124.15" r="1.4" fill="#fac58a" stroke="#f39427" stroke-width="1.0"/>
<circle cx="300.04" cy="120.09" r="1.4" fill="#fac58a" stroke="#f39427" stroke-width="1.0"/>
<circle cx="300.41" cy="116.12" r="1.4" fill="#fac58a" stroke="#f39427" stroke-width="1.0"/>
<circle cx="300.70" cy="112.04" r="1.4" fill="#fac58a" stroke="#f39427" stroke-width="1.0"/>
<circle cx="300.97" cy="107.97" r="1.4" fill="#fac58a" stroke="#f39427" stroke-width="1.0"/>
<circle cx="301.24" cy="104.06" r="1.4" fill="#fac58a" stroke="#f39427" stroke-width="1.0"/>
<circle cx="301.58" cy="100.16" r="1.4" fill="#fac58a" stroke="#f39427" stroke-width="1.0"/>
<circle cx="302.06" cy="96.09" r="1.4" fill="#fac58a" stroke="#f39427" stroke-width="1.0"/>
<circle cx="302.63" cy="92.11" r="1.4" fill="#fac58a" stroke="#f39427" stroke-width="1.0"/>
<circle cx="303.27" cy="88.10" r="1.4" fill="#fac58a" stroke="#f39427" stroke-width="1.0"/>
<circle cx="303.96" cy="84.08" r="1.4" fill="#fac58a" stroke="#f39427" stroke-width="1.0"/>
<circle cx="304.67" cy="80.30" r="1.4" fill="#fac58a" stroke="#f39427" stroke-width="1.0"/>
<circle cx="305.40" cy="76.70" r="1.4" fill="#fac58a" stroke="#f39427" stroke-width="1.0"/>
<circle cx="306.09" cy="73.58" r="1.4" fill="#fac58a" stroke="#f39427" stroke-width="1.0"/>
<circle cx="306.81" cy="70.80" r="1.4" fill="#fac58a" stroke="#f39427" stroke-width="1.0"/>
<circle cx="307.54" cy="68.61" r="1.4" fill="#fac58a" stroke="#f39427" stroke-width="1.0"/>
<circle cx="308.26" cy="66.94" r="1.4" fill="#fac58a" stroke="#f39427" stroke-width="1.0"/>
<circle cx="309.06" cy="65.45" r="1.4" fill="#fac58a" stroke="#f39427" stroke-width="1.0"/>
<circle cx="309.84" cy="64.15" r="1.4" fill="#fac58a" stroke="#f39427" stroke-width="1.0"/>
<circle cx="310.61" cy="62.80" r="1.4" fill="#fac58a" stroke="#f39427" stroke-width="1.0"/>
<circle cx="311.41" cy="61.45" r="1.4" fill="#fac58a" stroke="#f39427" stroke-width="1.0"/>
<circle cx="312.10" cy="60.40" r="1.4" fill="#fac58a" stroke="#f39427" stroke-width="1.0"/>
<circle cx="312.88" cy="59.32" r="1.4" fill="#fac58a" stroke="#f39427" stroke-width="1.0"/>
<circle cx="313.62" cy="58.36" r="1.4" fill="#fac58a" stroke="#f39427" stroke-width="1.0"/>
<circle cx="314.37" cy="57.36" r="1.4" fill="#fac58a" stroke="#f39427" stroke-width="1.0"/>
<circle cx="315.08" cy="57.26" r="1.4" fill="#fac58a" stroke="#f39427" stroke-width="1.0"/>
<circle cx="315.34" cy="61.24" r="1.4" fill="#fac58a" stroke="#f39427" stroke-width="1.0"/>
<circle cx="315.66" cy="65.28" r="1.4" fill="#fac58a" stroke="#f39427" stroke-width="1.0"/>
<circle cx="316.19" cy="69.24" r="1.4" fill="#fac58a" stroke="#f39427" stroke-width="1.0"/>
<circle cx="316.79" cy="73.28" r="1.4" fill="#fac58a" stroke="#f39427" stroke-width="1.0"/>
<circle cx="317.35" cy="77.19" r="1.4" fill="#fac58a" stroke="#f39427" stroke-width="1.0"/>
<circle cx="318.01" cy="81.11" r="1.4" fill="#fac58a" stroke="#f39427" stroke-width="1.0"/>
<circle cx="318.72" cy="84.37" r="1.4" fill="#fac58a" stroke="#f39427" stroke-width="1.0"/>
<circle cx="319.42" cy="87.23" r="1.4" fill="#fac58a" stroke="#f39427" stroke-width="1.0"/>
<circle cx="320.17" cy="89.97" r="1.4" fill="#fac58a" stroke="#f39427" stroke-width="1.0"/>
<circle cx="320.89" cy="92.37" r="1.4" fill="#fac58a" stroke="#f39427" stroke-width="1.0"/>
<circle cx="321.65" cy="94.62" r="1.4" fill="#fac58a" stroke="#f39427" stroke-width="1.0"/>
<circle cx="322.40" cy="96.75" r="1.4" fill="#fac58a" stroke="#f39427" stroke-width="1.0"/>
<circle cx="323.14" cy="98.73" r="1.4" fill="#fac58a" stroke="#f39427" stroke-width="1.0"/>
<circle cx="323.85" cy="100.56" r="1.4" fill="#fac58a" stroke="#f39427" stroke-width="1.0"/>
<circle cx="324.57" cy="102.30" r="1.4" fill="#fac58a" stroke="#f39427" stroke-width="1.0"/>
<circle cx="325.32" cy="104.04" r="1.4" fill="#fac58a" stroke="#f39427" stroke-width="1.0"/>
<circle cx="326.10" cy="105.71" r="1.4" fill="#fac58a" stroke="#f39427" stroke-width="1.0"/>
<circle cx="326.80" cy="107.10" r="1.4" fill="#fac58a" stroke="#f39427" stroke-width="1.0"/>
<circle cx="327.50" cy="108.42" r="1.4" fill="#fac58a" stroke="#f39427" stroke-width="1.0"/>
<circle cx="328.21" cy="109.70" r="1.4" fill="#fac58a" stroke="#f39427" stroke-width="1.0"/>
<circle cx="328.93" cy="110.94" r="1.4" fill="#fac58a" stroke="#f39427" stroke-width="1.0"/>
<circle cx="329.67" cy="112.14" r="1.4" fill="#fac58a" stroke="#f39427" stroke-width="1.0"/>
<circle cx="330.44" cy="113.31" r="1.4" fill="#fac58a" stroke="#f39427" stroke-width="1.0"/>
<circle cx="331.14" cy="114.29" r="1.4" fill="#fac58a" stroke="#f39427" stroke-width="1.0"/>
<circle cx="331.87" cy="115.25" r="1.4" fill="#fac58a" stroke="#f39427" stroke-width="1.0"/>
<circle cx="332.64" cy="116.20" r="1.4" fill="#fac58a" stroke="#f39427" stroke-width="1.0"/>
<circle cx="333.46" cy="117.14" r="1.4" fill="#fac58a" stroke="#f39427" stroke-width="1.0"/>
<circle cx="334.19" cy="117.92" r="1.4" fill="#fac58a" stroke="#f39427" stroke-width="1.0"/>
<circle cx="334.96" cy="118.70" r="1.4" fill="#fac58a" stroke="#f39427" stroke-width="1.0"/>
<circle cx="335.77" cy="119.47" r="1.4" fill="#fac58a" stroke="#f39427" stroke-width="1.0"/>
<circle cx="336.61" cy="120.23" r="1.4" fill="#fac58a" stroke="#f39427" stroke-width="1.0"/>
<circle cx="337.30" cy="120.83" r="1.4" fill="#fac58a" stroke="#f39427" stroke-width="1.0"/>
<circle cx="338.00" cy="121.42" r="1.4" fill="#fac58a" stroke="#f39427" stroke-width="1.0"/>
<circle cx="338.72" cy="122.01" r="1.4" fill="#fac58a" stroke="#f39427" stroke-width="1.0"/>
<circle cx="339.44" cy="122.58" r="1.4" fill="#fac58a" stroke="#f39427" stroke-width="1.0"/>
<circle cx="340.16" cy="123.13" r="1.4" fill="#fac58a" stroke="#f39427" stroke-width="1.0"/>
<circle cx="340.89" cy="123.68" r="1.4" fill="#fac58a" stroke="#f39427" stroke-width="1.0"/>
<circle cx="341.61" cy="124.21" r="1.4" fill="#fac58a" stroke="#f39427" stroke-width="1.0"/>
<circle cx="342.33" cy="124.72" r="1.4" fill="#fac58a" stroke="#f39427" stroke-width="1.0"/>
<circle cx="343.03" cy="125.21" r="1.4" fill="#fac58a" stroke="#f39427" stroke-width="1.0"/>
<circle cx="343.73" cy="125.68" r="1.4" fill="#fac58a" stroke="#f39427" stroke-width="1.0"/>
<circle cx="344.58" cy="126.24" r="1.4" fill="#fac58a" stroke="#f39427" stroke-width="1.0"/>
<circle cx="345.39" cy="126.73" r="1.4" fill="#fac58a" stroke="#f39427" stroke-width="1.0"/>
<circle cx="346.24" cy="127.22" r="1.4" fill="#fac58a" stroke="#f39427" stroke-width="1.0"/>
<circle cx="347.09" cy="127.67" r="1.4" fill="#fac58a" stroke="#f39427" stroke-width="1.0"/>
<circle cx="347.94" cy="128.10" r="1.4" fill="#fac58a" stroke="#f39427" stroke-width="1.0"/>
<circle cx="348.79" cy="128.51" r="1.4" fill="#fac58a" stroke="#f39427" stroke-width="1.0"/>
<circle cx="349.64" cy="128.91" r="1.4" fill="#fac58a" stroke="#f39427" stroke-width="1.0"/>
<circle cx="350.49" cy="129.30" r="1.4" fill="#fac58a" stroke="#f39427" stroke-width="1.0"/>
<circle cx="351.34" cy="129.69" r="1.4" fill="#fac58a" stroke="#f39427" stroke-width="1.0"/>
<circle cx="352.19" cy="130.08" r="1.4" fill="#fac58a" stroke="#f39427" stroke-width="1.0"/>
<circle cx="353.04" cy="130.48" r="1.4" fill="#fac58a" stroke="#f39427" stroke-width="1.0"/>
<circle cx="353.89" cy="130.90" r="1.4" fill="#fac58a" stroke="#f39427" stroke-width="1.0"/>
<circle cx="354.74" cy="131.32" r="1.4" fill="#fac58a" stroke="#f39427" stroke-width="1.0"/>
<circle cx="355.59" cy="131.76" r="1.4" fill="#fac58a" stroke="#f39427" stroke-width="1.0"/>
<circle cx="356.44" cy="132.19" r="1.4" fill="#fac58a" stroke="#f39427" stroke-width="1.0"/>
<circle cx="357.28" cy="132.63" r="1.4" fill="#fac58a" stroke="#f39427" stroke-width="1.0"/>
<circle cx="358.13" cy="133.07" r="1.4" fill="#fac58a" stroke="#f39427" stroke-width="1.0"/>
<circle cx="358.98" cy="133.50" r="1.4" fill="#fac58a" stroke="#f39427" stroke-width="1.0"/>
<circle cx="359.83" cy="133.94" r="1.4" fill="#fac58a" stroke="#f39427" stroke-width="1.0"/>
<circle cx="360.68" cy="134.36" r="1.4" fill="#fac58a" stroke="#f39427" stroke-width="1.0"/>
<circle cx="361.53" cy="134.79" r="1.4" fill="#fac58a" stroke="#f39427" stroke-width="1.0"/>
<circle cx="362.38" cy="135.20" r="1.4" fill="#fac58a" stroke="#f39427" stroke-width="1.0"/>
<circle cx="363.23" cy="135.61" r="1.4" fill="#fac58a" stroke="#f39427" stroke-width="1.0"/>
<circle cx="364.09" cy="136.00" r="1.4" fill="#fac58a" stroke="#f39427" stroke-width="1.0"/>
<circle cx="364.94" cy="136.39" r="1.4" fill="#fac58a" stroke="#f39427" stroke-width="1.0"/>
<circle cx="365.80" cy="136.77" r="1.4" fill="#fac58a" stroke="#f39427" stroke-width="1.0"/>
<circle cx="366.66" cy="137.14" r="1.4" fill="#fac58a" stroke="#f39427" stroke-width="1.0"/>
<circle cx="367.51" cy="137.51" r="1.4" fill="#fac58a" stroke="#f39427" stroke-width="1.0"/>
<circle cx="368.37" cy="137.86" r="1.4" fill="#fac58a" stroke="#f39427" stroke-width="1.0"/>
<circle cx="369.23" cy="138.22" r="1.4" fill="#fac58a" stroke="#f39427" stroke-width="1.0"/>
<circle cx="370.10" cy="138.57" r="1.4" fill="#fac58a" stroke="#f39427" stroke-width="1.0"/>
<circle cx="370.96" cy="138.91" r="1.4" fill="#fac58a" stroke="#f39427" stroke-width="1.0"/>
<circle cx="371.81" cy="139.24" r="1.4" fill="#fac58a" stroke="#f39427" stroke-width="1.0"/>
<circle cx="372.67" cy="139.57" r="1.4" fill="#fac58a" stroke="#f39427" stroke-width="1.0"/>
<circle cx="373.53" cy="139.90" r="1.4" fill="#fac58a" stroke="#f39427" stroke-width="1.0"/>
<circle cx="374.39" cy="140.22" r="1.4" fill="#fac58a" stroke="#f39427" stroke-width="1.0"/>
<circle cx="375.24" cy="140.53" r="1.4" fill="#fac58a" stroke="#f39427" stroke-width="1.0"/>
<circle cx="376.09" cy="140.84" r="1.4" fill="#fac58a" stroke="#f39427" stroke-width="1.0"/>
<circle cx="376.94" cy="141.13" r="1.4" fill="#fac58a" stroke="#f39427" stroke-width="1.0"/>
<circle cx="377.79" cy="141.42" r="1.4" fill="#fac58a" stroke="#f39427" stroke-width="1.0"/>
<circle cx="378.64" cy="141.70" r="1.4" fill="#fac58a" stroke="#f39427" stroke-width="1.0"/>
<circle cx="379.49" cy="141.98" r="1.4" fill="#fac58a" stroke="#f39427" stroke-width="1.0"/>
<circle cx="380.34" cy="142.26" r="1.4" fill="#fac58a" stroke="#f39427" stroke-width="1.0"/>
<circle cx="381.18" cy="142.53" r="1.4" fill="#fac58a" stroke="#f39427" stroke-width="1.0"/>
<circle cx="382.03" cy="142.80" r="1.4" fill="#fac58a" stroke="#f39427" stroke-width="1.0"/>
<circle cx="382.88" cy="143.07" r="1.4" fill="#fac58a" stroke="#f39427" stroke-width="1.0"/>
<circle cx="383.73" cy="143.35" r="1.4" fill="#fac58a" stroke="#f39427" stroke-width="1.0"/>
<circle cx="384.59" cy="143.63" r="1.4" fill="#fac58a" stroke="#f39427" stroke-width="1.0"/>
<circle cx="385.45" cy="143.91" r="1.4" fill="#fac58a" stroke="#f39427" stroke-width="1.0"/>
<circle cx="386.32" cy="144.20" r="1.4" fill="#fac58a" stroke="#f39427" stroke-width="1.0"/>
<circle cx="387.20" cy="144.49" r="1.4" fill="#fac58a" stroke="#f39427" stroke-width="1.0"/>
<circle cx="388.09" cy="144.77" r="1.4" fill="#fac58a" stroke="#f39427" stroke-width="1.0"/>
<circle cx="388.98" cy="145.06" r="1.4" fill="#fac58a" stroke="#f39427" stroke-width="1.0"/>
<circle cx="389.87" cy="145.35" r="1.4" fill="#fac58a" stroke="#f39427" stroke-width="1.0"/>
<circle cx="390.75" cy="145.63" r="1.4" fill="#fac58a" stroke="#f39427" stroke-width="1.0"/>
<circle cx="391.62" cy="145.92" r="1.4" fill="#fac58a" stroke="#f39427" stroke-width="1.0"/>
<circle cx="392.47" cy="146.20" r="1.4" fill="#fac58a" stroke="#f39427" stroke-width="1.0"/>
<circle cx="393.31" cy="146.48" r="1.4" fill="#fac58a" stroke="#f39427" stroke-width="1.0"/>
<circle cx="394.12" cy="146.76" r="1.4" fill="#fac58a" stroke="#f39427" stroke-width="1.0"/>
<circle cx="394.91" cy="147.03" r="1.4" fill="#fac58a" stroke="#f39427" stroke-width="1.0"/>
<circle cx="395.68" cy="147.31" r="1.4" fill="#fac58a" stroke="#f39427" stroke-width="1.0"/>
<circle cx="396.46" cy="147.60" r="1.4" fill="#fac58a" stroke="#f39427" stroke-width="1.0"/>
<circle cx="397.25" cy="147.89" r="1.4" fill="#fac58a" stroke="#f39427" stroke-width="1.0"/>
<circle cx="398.04" cy="148.19" r="1.4" fill="#fac58a" stroke="#f39427" stroke-width="1.0"/>
<circle cx="398.81" cy="148.50" r="1.4" fill="#fac58a" stroke="#f39427" stroke-width="1.0"/>
<circle cx="399.74" cy="148.86" r="1.4" fill="#fac58a" stroke="#f39427" stroke-width="1.0"/>
<circle cx="400.45" cy="149.14" r="1.4" fill="#fac58a" stroke="#f39427" stroke-width="1.0"/>
<circle cx="401.31" cy="149.49" r="1.4" fill="#fac58a" stroke="#f39427" stroke-width="1.0"/>
<circle cx="402.26" cy="149.87" r="1.4" fill="#fac58a" stroke="#f39427" stroke-width="1.0"/>
<circle cx="403.10" cy="150.20" r="1.4" fill="#fac58a" stroke="#f39427" stroke-width="1.0"/>
<path d="M292.80,150.20 L292.88,150.08 L292.98,149.94 L293.09,149.78 L293.22,149.60 L293.36,149.40 L293.51,149.18 L293.67,148.95 L293.83,148.69 L294.00,148.42 L294.17,148.13 L294.34,147.82 L294.50,147.50 L294.66,147.20 L294.83,146.94 L294.99,146.71 L295.16,146.49 L295.33,146.24 L295.51,145.96 L295.69,145.61 L295.87,145.18 L296.07,144.65 L296.27,143.99 L296.48,143.18 L296.70,142.20 L296.93,141.04 L297.17,139.73 L297.42,138.27 L297.69,136.70 L297.95,135.01 L298.22,133.24 L298.50,131.40 L298.78,129.51 L299.06,127.59 L299.34,125.65 L299.62,123.72 L299.90,121.80 L300.15,119.97 L300.37,118.23 L300.56,116.55 L300.75,114.89 L300.93,113.19 L301.13,111.41 L301.36,109.51 L301.62,107.44 L301.93,105.16 L302.31,102.63 L302.76,99.79 L303.30,96.60 L303.97,92.86 L304.77,88.49 L305.68,83.63 L306.68,78.42 L307.72,73.00 L308.79,67.50 L309.85,62.07 L310.87,56.84 L311.82,51.97 L312.68,47.57 L313.42,43.80 L314.00,40.80 L314.43,38.53 L314.75,36.81 L314.97,35.58 L315.11,34.76 L315.18,34.29 L315.20,34.10 L315.19,34.11 L315.16,34.26 L315.13,34.47 L315.12,34.68 L315.13,34.81 L315.20,34.80 L315.29,34.74 L315.37,34.76 L315.44,34.87 L315.50,35.04 L315.57,35.29 L315.64,35.59 L315.71,35.94 L315.80,36.33 L315.89,36.76 L316.01,37.22 L316.14,37.70 L316.30,38.20 L316.48,38.72 L316.68,39.26 L316.89,39.84 L317.11,40.46 L317.35,41.11 L317.61,41.79 L317.87,42.52 L318.14,43.29 L318.42,44.10 L318.71,44.95 L319.00,45.85 L319.30,46.80 L319.61,47.82 L319.93,48.92 L320.27,50.10 L320.61,51.33 L320.96,52.60 L321.33,53.90 L321.69,55.21 L322.06,56.53 L322.42,57.83 L322.79,59.10 L323.15,60.33 L323.50,61.50 L323.84,62.61 L324.17,63.68 L324.49,64.72 L324.80,65.73 L325.12,66.73 L325.44,67.73 L325.77,68.72 L326.11,69.73 L326.47,70.77 L326.85,71.83 L327.26,72.94 L327.70,74.10 L328.18,75.33 L328.69,76.62 L329.24,77.98 L329.80,79.37 L330.39,80.78 L330.99,82.20 L331.59,83.61 L332.20,85.00 L332.80,86.35 L333.38,87.64 L333.95,88.86 L334.50,90.00 L335.03,91.05 L335.54,92.03 L336.04,92.95 L336.53,93.82 L337.02,94.65 L337.50,95.45 L337.98,96.23 L338.47,97.00 L338.96,97.78 L339.46,98.56 L339.97,99.36 L340.50,100.20 L341.04,101.06 L341.59,101.91 L342.14,102.77 L342.71,103.63 L343.28,104.49 L343.85,105.35 L344.43,106.21 L345.00,107.07 L345.58,107.93 L346.16,108.79 L346.73,109.64 L347.30,110.50 L347.87,111.36 L348.43,112.23 L349.00,113.10 L349.57,113.97 L350.13,114.84 L350.70,115.71 L351.27,116.58 L351.83,117.43 L352.40,118.27 L352.97,119.10 L353.53,119.91 L354.10,120.70 L354.66,121.47 L355.21,122.21 L355.76,122.94 L356.30,123.66 L356.84,124.36 L357.39,125.05 L357.94,125.74 L358.50,126.42 L359.07,127.11 L359.66,127.80 L360.27,128.49 L360.90,129.20 L361.56,129.92 L362.25,130.65 L362.97,131.39 L363.70,132.13 L364.45,132.87 L365.20,133.61 L365.95,134.34 L366.70,135.06 L367.43,135.77 L368.15,136.47 L368.84,137.15 L369.50,137.80 L370.13,138.43 L370.73,139.04 L371.31,139.64 L371.87,140.21 L372.42,140.78 L372.96,141.34 L373.49,141.89 L374.03,142.43 L374.58,142.97 L375.14,143.51 L375.71,144.05 L376.30,144.60 L376.93,145.17 L377.62,145.76 L378.34,146.38 L379.09,147.00 L379.83,147.62 L380.58,148.22 L381.29,148.81 L381.97,149.36 L382.60,149.86 L383.15,150.31 L383.63,150.69 L384.00,151.00" fill="none" stroke="#148580" stroke-width="0.9" stroke-linejoin="round" stroke-linecap="round" />
<circle cx="292.80" cy="150.20" r="1.5" fill="#6cbab5" stroke="#148580" stroke-width="1.0"/>
<circle cx="293.51" cy="149.18" r="1.5" fill="#6cbab5" stroke="#148580" stroke-width="1.0"/>
<circle cx="294.34" cy="147.82" r="1.5" fill="#6cbab5" stroke="#148580" stroke-width="1.0"/>
<circle cx="295.16" cy="146.49" r="1.5" fill="#6cbab5" stroke="#148580" stroke-width="1.0"/>
<circle cx="295.87" cy="145.18" r="1.5" fill="#6cbab5" stroke="#148580" stroke-width="1.0"/>
<circle cx="296.57" cy="142.79" r="1.5" fill="#6cbab5" stroke="#148580" stroke-width="1.0"/>
<circle cx="297.28" cy="139.11" r="1.5" fill="#6cbab5" stroke="#148580" stroke-width="1.0"/>
<circle cx="297.92" cy="135.22" r="1.5" fill="#6cbab5" stroke="#148580" stroke-width="1.0"/>
<circle cx="298.53" cy="131.19" r="1.5" fill="#6cbab5" stroke="#148580" stroke-width="1.0"/>
<circle cx="299.12" cy="127.16" r="1.5" fill="#6cbab5" stroke="#148580" stroke-width="1.0"/>
<circle cx="299.68" cy="123.29" r="1.5" fill="#6cbab5" stroke="#148580" stroke-width="1.0"/>
<circle cx="300.23" cy="119.32" r="1.5" fill="#6cbab5" stroke="#148580" stroke-width="1.0"/>
<circle cx="300.70" cy="115.31" r="1.5" fill="#6cbab5" stroke="#148580" stroke-width="1.0"/>
<circle cx="301.13" cy="111.41" r="1.5" fill="#6cbab5" stroke="#148580" stroke-width="1.0"/>
<circle cx="301.62" cy="107.44" r="1.5" fill="#6cbab5" stroke="#148580" stroke-width="1.0"/>
<circle cx="302.18" cy="103.47" r="1.5" fill="#6cbab5" stroke="#148580" stroke-width="1.0"/>
<circle cx="302.79" cy="99.59" r="1.5" fill="#6cbab5" stroke="#148580" stroke-width="1.0"/>
<circle cx="303.49" cy="95.56" r="1.5" fill="#6cbab5" stroke="#148580" stroke-width="1.0"/>
<circle cx="304.19" cy="91.67" r="1.5" fill="#6cbab5" stroke="#148580" stroke-width="1.0"/>
<circle cx="304.89" cy="87.89" r="1.5" fill="#6cbab5" stroke="#148580" stroke-width="1.0"/>
<circle cx="305.61" cy="84.04" r="1.5" fill="#6cbab5" stroke="#148580" stroke-width="1.0"/>
<circle cx="306.33" cy="80.23" r="1.5" fill="#6cbab5" stroke="#148580" stroke-width="1.0"/>
<circle cx="307.03" cy="76.61" r="1.5" fill="#6cbab5" stroke="#148580" stroke-width="1.0"/>
<circle cx="307.72" cy="73.00" r="1.5" fill="#6cbab5" stroke="#148580" stroke-width="1.0"/>
<circle cx="308.43" cy="69.33" r="1.5" fill="#6cbab5" stroke="#148580" stroke-width="1.0"/>
<circle cx="309.14" cy="65.69" r="1.5" fill="#6cbab5" stroke="#148580" stroke-width="1.0"/>
<circle cx="309.85" cy="62.07" r="1.5" fill="#6cbab5" stroke="#148580" stroke-width="1.0"/>
<circle cx="310.55" cy="58.45" r="1.5" fill="#6cbab5" stroke="#148580" stroke-width="1.0"/>
<circle cx="311.26" cy="54.81" r="1.5" fill="#6cbab5" stroke="#148580" stroke-width="1.0"/>
<circle cx="311.98" cy="51.17" r="1.5" fill="#6cbab5" stroke="#148580" stroke-width="1.0"/>
<circle cx="312.68" cy="47.57" r="1.5" fill="#6cbab5" stroke="#148580" stroke-width="1.0"/>
<circle cx="313.38" cy="44.00" r="1.5" fill="#6cbab5" stroke="#148580" stroke-width="1.0"/>
<circle cx="314.08" cy="40.39" r="1.5" fill="#6cbab5" stroke="#148580" stroke-width="1.0"/>
<circle cx="314.79" cy="36.60" r="1.5" fill="#6cbab5" stroke="#148580" stroke-width="1.0"/>
<circle cx="315.37" cy="34.76" r="1.5" fill="#6cbab5" stroke="#148580" stroke-width="1.0"/>
<circle cx="316.07" cy="37.46" r="1.5" fill="#6cbab5" stroke="#148580" stroke-width="1.0"/>
<circle cx="316.82" cy="39.65" r="1.5" fill="#6cbab5" stroke="#148580" stroke-width="1.0"/>
<circle cx="317.52" cy="41.56" r="1.5" fill="#6cbab5" stroke="#148580" stroke-width="1.0"/>
<circle cx="318.28" cy="43.69" r="1.5" fill="#6cbab5" stroke="#148580" stroke-width="1.0"/>
<circle cx="319.00" cy="45.85" r="1.5" fill="#6cbab5" stroke="#148580" stroke-width="1.0"/>
<circle cx="319.74" cy="48.26" r="1.5" fill="#6cbab5" stroke="#148580" stroke-width="1.0"/>
<circle cx="320.44" cy="50.71" r="1.5" fill="#6cbab5" stroke="#148580" stroke-width="1.0"/>
<circle cx="321.14" cy="53.25" r="1.5" fill="#6cbab5" stroke="#148580" stroke-width="1.0"/>
<circle cx="321.87" cy="55.87" r="1.5" fill="#6cbab5" stroke="#148580" stroke-width="1.0"/>
<circle cx="322.60" cy="58.47" r="1.5" fill="#6cbab5" stroke="#148580" stroke-width="1.0"/>
<circle cx="323.32" cy="60.91" r="1.5" fill="#6cbab5" stroke="#148580" stroke-width="1.0"/>
<circle cx="324.04" cy="63.26" r="1.5" fill="#6cbab5" stroke="#148580" stroke-width="1.0"/>
<circle cx="324.74" cy="65.53" r="1.5" fill="#6cbab5" stroke="#148580" stroke-width="1.0"/>
<circle cx="325.44" cy="67.73" r="1.5" fill="#6cbab5" stroke="#148580" stroke-width="1.0"/>
<circle cx="326.18" cy="69.94" r="1.5" fill="#6cbab5" stroke="#148580" stroke-width="1.0"/>
<circle cx="326.93" cy="72.05" r="1.5" fill="#6cbab5" stroke="#148580" stroke-width="1.0"/>
<circle cx="327.63" cy="73.91" r="1.5" fill="#6cbab5" stroke="#148580" stroke-width="1.0"/>
<circle cx="328.35" cy="75.76" r="1.5" fill="#6cbab5" stroke="#148580" stroke-width="1.0"/>
<circle cx="329.08" cy="77.59" r="1.5" fill="#6cbab5" stroke="#148580" stroke-width="1.0"/>
<circle cx="329.80" cy="79.37" r="1.5" fill="#6cbab5" stroke="#148580" stroke-width="1.0"/>
<circle cx="330.56" cy="81.19" r="1.5" fill="#6cbab5" stroke="#148580" stroke-width="1.0"/>
<circle cx="331.33" cy="83.01" r="1.5" fill="#6cbab5" stroke="#148580" stroke-width="1.0"/>
<circle cx="332.02" cy="84.60" r="1.5" fill="#6cbab5" stroke="#148580" stroke-width="1.0"/>
<circle cx="332.80" cy="86.35" r="1.5" fill="#6cbab5" stroke="#148580" stroke-width="1.0"/>
<circle cx="333.57" cy="88.05" r="1.5" fill="#6cbab5" stroke="#148580" stroke-width="1.0"/>
<circle cx="334.32" cy="89.62" r="1.5" fill="#6cbab5" stroke="#148580" stroke-width="1.0"/>
<circle cx="335.03" cy="91.05" r="1.5" fill="#6cbab5" stroke="#148580" stroke-width="1.0"/>
<circle cx="335.74" cy="92.40" r="1.5" fill="#6cbab5" stroke="#148580" stroke-width="1.0"/>
<circle cx="336.53" cy="93.82" r="1.5" fill="#6cbab5" stroke="#148580" stroke-width="1.0"/>
<circle cx="337.26" cy="95.05" r="1.5" fill="#6cbab5" stroke="#148580" stroke-width="1.0"/>
<circle cx="337.98" cy="96.23" r="1.5" fill="#6cbab5" stroke="#148580" stroke-width="1.0"/>
<circle cx="338.72" cy="97.39" r="1.5" fill="#6cbab5" stroke="#148580" stroke-width="1.0"/>
<circle cx="339.46" cy="98.56" r="1.5" fill="#6cbab5" stroke="#148580" stroke-width="1.0"/>
<circle cx="340.24" cy="99.78" r="1.5" fill="#6cbab5" stroke="#148580" stroke-width="1.0"/>
<circle cx="340.93" cy="100.88" r="1.5" fill="#6cbab5" stroke="#148580" stroke-width="1.0"/>
<circle cx="341.70" cy="102.08" r="1.5" fill="#6cbab5" stroke="#148580" stroke-width="1.0"/>
<circle cx="342.48" cy="103.29" r="1.5" fill="#6cbab5" stroke="#148580" stroke-width="1.0"/>
<circle cx="343.28" cy="104.49" r="1.5" fill="#6cbab5" stroke="#148580" stroke-width="1.0"/>
<circle cx="344.08" cy="105.69" r="1.5" fill="#6cbab5" stroke="#148580" stroke-width="1.0"/>
<circle cx="344.77" cy="106.73" r="1.5" fill="#6cbab5" stroke="#148580" stroke-width="1.0"/>
<circle cx="345.47" cy="107.76" r="1.5" fill="#6cbab5" stroke="#148580" stroke-width="1.0"/>
<circle cx="346.16" cy="108.79" r="1.5" fill="#6cbab5" stroke="#148580" stroke-width="1.0"/>
<circle cx="346.96" cy="109.99" r="1.5" fill="#6cbab5" stroke="#148580" stroke-width="1.0"/>
<circle cx="347.75" cy="111.19" r="1.5" fill="#6cbab5" stroke="#148580" stroke-width="1.0"/>
<circle cx="348.55" cy="112.40" r="1.5" fill="#6cbab5" stroke="#148580" stroke-width="1.0"/>
<circle cx="349.34" cy="113.62" r="1.5" fill="#6cbab5" stroke="#148580" stroke-width="1.0"/>
<circle cx="350.13" cy="114.84" r="1.5" fill="#6cbab5" stroke="#148580" stroke-width="1.0"/>
<circle cx="350.93" cy="116.06" r="1.5" fill="#6cbab5" stroke="#148580" stroke-width="1.0"/>
<circle cx="351.72" cy="117.26" r="1.5" fill="#6cbab5" stroke="#148580" stroke-width="1.0"/>
<circle cx="352.51" cy="118.44" r="1.5" fill="#6cbab5" stroke="#148580" stroke-width="1.0"/>
<circle cx="353.25" cy="119.50" r="1.5" fill="#6cbab5" stroke="#148580" stroke-width="1.0"/>
<circle cx="353.96" cy="120.50" r="1.5" fill="#6cbab5" stroke="#148580" stroke-width="1.0"/>
<circle cx="354.66" cy="121.47" r="1.5" fill="#6cbab5" stroke="#148580" stroke-width="1.0"/>
<circle cx="355.49" cy="122.58" r="1.5" fill="#6cbab5" stroke="#148580" stroke-width="1.0"/>
<circle cx="356.30" cy="123.66" r="1.5" fill="#6cbab5" stroke="#148580" stroke-width="1.0"/>
<circle cx="357.11" cy="124.70" r="1.5" fill="#6cbab5" stroke="#148580" stroke-width="1.0"/>
<circle cx="357.94" cy="125.74" r="1.5" fill="#6cbab5" stroke="#148580" stroke-width="1.0"/>
<circle cx="358.64" cy="126.59" r="1.5" fill="#6cbab5" stroke="#148580" stroke-width="1.0"/>
<circle cx="359.37" cy="127.45" r="1.5" fill="#6cbab5" stroke="#148580" stroke-width="1.0"/>
<circle cx="360.12" cy="128.32" r="1.5" fill="#6cbab5" stroke="#148580" stroke-width="1.0"/>
<circle cx="360.90" cy="129.20" r="1.5" fill="#6cbab5" stroke="#148580" stroke-width="1.0"/>
<circle cx="361.70" cy="130.06" r="1.5" fill="#6cbab5" stroke="#148580" stroke-width="1.0"/>
<circle cx="362.39" cy="130.80" r="1.5" fill="#6cbab5" stroke="#148580" stroke-width="1.0"/>
<circle cx="363.11" cy="131.53" r="1.5" fill="#6cbab5" stroke="#148580" stroke-width="1.0"/>
<circle cx="363.85" cy="132.27" r="1.5" fill="#6cbab5" stroke="#148580" stroke-width="1.0"/>
<circle cx="364.60" cy="133.02" r="1.5" fill="#6cbab5" stroke="#148580" stroke-width="1.0"/>
<circle cx="365.35" cy="133.75" r="1.5" fill="#6cbab5" stroke="#148580" stroke-width="1.0"/>
<circle cx="366.10" cy="134.48" r="1.5" fill="#6cbab5" stroke="#148580" stroke-width="1.0"/>
<circle cx="366.85" cy="135.21" r="1.5" fill="#6cbab5" stroke="#148580" stroke-width="1.0"/>
<circle cx="367.61" cy="135.95" r="1.5" fill="#6cbab5" stroke="#148580" stroke-width="1.0"/>
<circle cx="368.32" cy="136.64" r="1.5" fill="#6cbab5" stroke="#148580" stroke-width="1.0"/>
<circle cx="369.17" cy="137.47" r="1.5" fill="#6cbab5" stroke="#148580" stroke-width="1.0"/>
<circle cx="369.97" cy="138.27" r="1.5" fill="#6cbab5" stroke="#148580" stroke-width="1.0"/>
<circle cx="370.73" cy="139.04" r="1.5" fill="#6cbab5" stroke="#148580" stroke-width="1.0"/>
<circle cx="371.45" cy="139.78" r="1.5" fill="#6cbab5" stroke="#148580" stroke-width="1.0"/>
<circle cx="372.23" cy="140.59" r="1.5" fill="#6cbab5" stroke="#148580" stroke-width="1.0"/>
<circle cx="372.96" cy="141.34" r="1.5" fill="#6cbab5" stroke="#148580" stroke-width="1.0"/>
<circle cx="373.67" cy="142.07" r="1.5" fill="#6cbab5" stroke="#148580" stroke-width="1.0"/>
<circle cx="374.40" cy="142.79" r="1.5" fill="#6cbab5" stroke="#148580" stroke-width="1.0"/>
<circle cx="375.14" cy="143.51" r="1.5" fill="#6cbab5" stroke="#148580" stroke-width="1.0"/>
<circle cx="375.86" cy="144.19" r="1.5" fill="#6cbab5" stroke="#148580" stroke-width="1.0"/>
<circle cx="376.62" cy="144.88" r="1.5" fill="#6cbab5" stroke="#148580" stroke-width="1.0"/>
<circle cx="377.45" cy="145.61" r="1.5" fill="#6cbab5" stroke="#148580" stroke-width="1.0"/>
<circle cx="378.16" cy="146.22" r="1.5" fill="#6cbab5" stroke="#148580" stroke-width="1.0"/>
<circle cx="378.90" cy="146.84" r="1.5" fill="#6cbab5" stroke="#148580" stroke-width="1.0"/>
<circle cx="379.65" cy="147.46" r="1.5" fill="#6cbab5" stroke="#148580" stroke-width="1.0"/>
<circle cx="380.39" cy="148.07" r="1.5" fill="#6cbab5" stroke="#148580" stroke-width="1.0"/>
<circle cx="381.11" cy="148.66" r="1.5" fill="#6cbab5" stroke="#148580" stroke-width="1.0"/>
<circle cx="381.97" cy="149.36" r="1.5" fill="#6cbab5" stroke="#148580" stroke-width="1.0"/>
<circle cx="382.78" cy="150.01" r="1.5" fill="#6cbab5" stroke="#148580" stroke-width="1.0"/>
<circle cx="383.63" cy="150.69" r="1.5" fill="#6cbab5" stroke="#148580" stroke-width="1.0"/>
<text x="308.00" y="30.40" font-size="8.8" font-weight="bold" text-anchor="start" fill="#1a1a1a" stroke="#1a1a1a" stroke-width="0.3" >20.1</text>
<text x="286.30" y="58.40" font-size="8.8" font-weight="bold" text-anchor="start" fill="#1a1a1a" stroke="#1a1a1a" stroke-width="0.3" >16.2</text>
<text x="310.30" y="134.00" font-size="8.8" font-weight="bold" text-anchor="start" fill="#1a1a1a" stroke="#1a1a1a" stroke-width="0.3" >2.2</text>
<line x1="357.20" y1="30.10" x2="368.50" y2="30.10" stroke="#148580" stroke-width="1.3" />
<circle cx="362.8" cy="30.1" r="1.5" fill="#a8dcd8" stroke="#148580" stroke-width="0.9"/>
<text x="370.90" y="32.70" font-size="8.95" font-weight="bold" text-anchor="start" fill="#148580" stroke="#148580" stroke-width="0.3" >AuE-Ni-N-C/Ti<tspan font-size="6.6" dy="2.5">3</tspan><tspan dy="-2.5">C</tspan><tspan font-size="6.6" dy="2.5">2</tspan><tspan dy="-2.5">T</tspan><tspan font-size="6.6" dy="2.5">x</tspan></text>
<line x1="357.20" y1="42.90" x2="368.50" y2="42.90" stroke="#8e8e8e" stroke-width="1.3" />
<circle cx="362.8" cy="42.9" r="1.5" fill="#d0d0d0" stroke="#8e8e8e" stroke-width="0.9"/>
<text x="370.90" y="45.50" font-size="8.95" font-weight="bold" text-anchor="start" fill="#8e8e8e" stroke="#8e8e8e" stroke-width="0.3" >AuE-Ni NPs/N-C</text>
<line x1="357.20" y1="54.10" x2="368.50" y2="54.10" stroke="#2f5480" stroke-width="1.3" />
<circle cx="362.8" cy="54.1" r="1.5" fill="#7f9cc0" stroke="#2f5480" stroke-width="0.9"/>
<text x="370.90" y="56.70" font-size="8.95" font-weight="bold" text-anchor="start" fill="#2f5480" stroke="#2f5480" stroke-width="0.3" >AuE-N-C</text>
<line x1="357.20" y1="65.10" x2="368.50" y2="65.10" stroke="#f39427" stroke-width="1.3" />
<circle cx="362.8" cy="65.1" r="1.5" fill="#ffe0b8" stroke="#f39427" stroke-width="0.9"/>
<text x="370.90" y="67.70" font-size="8.95" font-weight="bold" text-anchor="start" fill="#f39427" stroke="#f39427" stroke-width="0.3" >AuE-Ni-N-C</text>
<rect x="386.70" y="75.30" width="57.80" height="49.30" fill="none" stroke="#262626" stroke-width="0.8"/>
<line x1="385.20" y1="121.00" x2="386.70" y2="121.00" stroke="#262626" stroke-width="0.6" />
<text x="384.40" y="122.80" font-size="5.2" font-weight="normal" text-anchor="end" fill="#1a1a1a" >0.0</text>
<line x1="385.20" y1="108.07" x2="386.70" y2="108.07" stroke="#262626" stroke-width="0.6" />
<text x="384.40" y="109.87" font-size="5.2" font-weight="normal" text-anchor="end" fill="#1a1a1a" >0.1</text>
<line x1="385.20" y1="95.14" x2="386.70" y2="95.14" stroke="#262626" stroke-width="0.6" />
<text x="384.40" y="96.94" font-size="5.2" font-weight="normal" text-anchor="end" fill="#1a1a1a" >0.2</text>
<line x1="385.20" y1="82.21" x2="386.70" y2="82.21" stroke="#262626" stroke-width="0.6" />
<text x="384.40" y="84.01" font-size="5.2" font-weight="normal" text-anchor="end" fill="#1a1a1a" >0.3</text>
<line x1="390.90" y1="124.60" x2="390.90" y2="126.10" stroke="#262626" stroke-width="0.6" />
<text x="390.90" y="130.00" font-size="5.6" font-weight="normal" text-anchor="middle" fill="#1a1a1a" >0</text>
<line x1="412.70" y1="124.60" x2="412.70" y2="126.10" stroke="#262626" stroke-width="0.6" />
<text x="412.70" y="130.00" font-size="5.6" font-weight="normal" text-anchor="middle" fill="#1a1a1a" >50</text>
<line x1="434.50" y1="124.60" x2="434.50" y2="126.10" stroke="#262626" stroke-width="0.6" />
<text x="434.50" y="130.00" font-size="5.6" font-weight="normal" text-anchor="middle" fill="#1a1a1a" >100</text>
<text x="416.20" y="137.20" font-size="8" font-weight="bold" text-anchor="middle" fill="#1a1a1a" stroke="#1a1a1a" stroke-width="0.3" >Time (s)</text>
<text x="374.80" y="101.50" font-size="8" font-weight="bold" text-anchor="middle" fill="#1a1a1a" stroke="#1a1a1a" stroke-width="0.12" transform="rotate(-90 374.8 101.5)">Response (%)</text>
<text x="422.00" y="87.20" font-size="9.2" font-weight="bold" text-anchor="start" fill="#1a1a1a" stroke="#1a1a1a" stroke-width="0.3" >0.29</text>
<path d="M390.80,119.70 L391.59,120.31 L392.73,121.26 L393.97,121.78 L395.10,121.10 L396.08,118.54 L397.03,114.66 L397.91,110.57 L398.70,107.40 L399.32,105.55 L399.80,104.40 L400.28,103.47 L400.90,102.30 L401.69,100.84 L402.57,99.31 L403.52,97.65 L404.50,95.80 L405.51,93.54 L406.56,90.97 L407.65,88.50 L408.80,86.50 L410.09,85.06 L411.48,83.97 L412.81,83.23 L413.90,82.80 L414.66,82.76 L415.19,83.09 L415.62,83.66 L416.10,84.30 L416.55,84.76 L416.93,85.20 L417.42,86.09 L418.20,87.90 L419.42,91.11 L420.96,95.35 L422.56,99.84 L424.00,103.80 L425.20,107.16 L426.29,110.28 L427.34,113.06 L428.40,115.40 L429.51,117.21 L430.64,118.58 L431.73,119.61 L432.70,120.40 L433.59,120.89 L434.42,121.06 L435.11,121.08 L435.60,121.10" fill="none" stroke="#8c8c8c" stroke-width="1.7" stroke-linejoin="round" stroke-linecap="round" />
<text x="476.30" y="15.70" font-size="19" font-weight="bold" text-anchor="start" fill="#1a1a1a" stroke="#1a1a1a" stroke-width="0.3" >c</text>
<line x1="510.50" y1="20.60" x2="683.30" y2="20.60" stroke="#333" stroke-width="1.3" />
<line x1="683.30" y1="20.60" x2="683.30" y2="159.50" stroke="#333" stroke-width="1.3" />
<rect x="528.20" y="124.78" width="24.90" height="34.72" fill="url(#gGray)" />
<rect x="565.50" y="115.84" width="25.30" height="43.66" fill="url(#gBlue)" />
<rect x="603.20" y="51.00" width="25.10" height="108.50" fill="url(#gOrange)" />
<rect x="640.90" y="60.20" width="25.20" height="99.30" fill="url(#gTeal)" />
<line x1="510.50" y1="159.50" x2="683.30" y2="159.50" stroke="#262626" stroke-width="1.2" />
<line x1="510.50" y1="20.60" x2="510.50" y2="159.50" stroke="#262626" stroke-width="1.2" />
<line x1="508.00" y1="159.50" x2="510.50" y2="159.50" stroke="#262626" stroke-width="0.9" />
<text x="505.30" y="162.00" font-size="9.0" font-weight="bold" text-anchor="end" fill="#1a1a1a" stroke="#1a1a1a" stroke-width="0.3" >0.0</text>
<line x1="508.00" y1="116.10" x2="510.50" y2="116.10" stroke="#262626" stroke-width="0.9" />
<text x="505.30" y="118.60" font-size="9.0" font-weight="bold" text-anchor="end" fill="#1a1a1a" stroke="#1a1a1a" stroke-width="0.3" >50.0</text>
<line x1="508.00" y1="72.70" x2="510.50" y2="72.70" stroke="#262626" stroke-width="0.9" />
<text x="505.30" y="75.20" font-size="9.0" font-weight="bold" text-anchor="end" fill="#1a1a1a" stroke="#1a1a1a" stroke-width="0.3" >100.0</text>
<line x1="508.00" y1="29.30" x2="510.50" y2="29.30" stroke="#262626" stroke-width="0.9" />
<text x="505.30" y="31.80" font-size="9.0" font-weight="bold" text-anchor="end" fill="#1a1a1a" stroke="#1a1a1a" stroke-width="0.3" >150.0</text>
<line x1="509.00" y1="137.80" x2="510.50" y2="137.80" stroke="#262626" stroke-width="0.9" />
<line x1="509.00" y1="94.40" x2="510.50" y2="94.40" stroke="#262626" stroke-width="0.9" />
<line x1="509.00" y1="51.00" x2="510.50" y2="51.00" stroke="#262626" stroke-width="0.9" />
<path d="M538.70,124.40 L577.30,115.80 L615.70,50.50 L654.10,59.10" fill="none" stroke="#111" stroke-width="1.1" stroke-linejoin="round" stroke-linecap="round" />
<circle cx="538.70" cy="124.40" r="3.7" fill="url(#gBall)"/>
<circle cx="577.30" cy="115.80" r="3.7" fill="url(#gBall)"/>
<circle cx="615.70" cy="50.50" r="3.7" fill="url(#gBall)"/>
<circle cx="654.10" cy="59.10" r="3.7" fill="url(#gBall)"/>
<text x="478.30" y="89.00" font-size="12.6" font-weight="bold" text-anchor="middle" fill="#1a1a1a" stroke="#1a1a1a" stroke-width="0.3" transform="rotate(-90 478.3 89.0)">T<tspan font-size="10" dy="2.2">rec</tspan><tspan dy="-2.2"> (s)</tspan></text>
<rect x="515.10" y="25.60" width="13.10" height="8.20" fill="url(#gTeal)" />
<text x="531.00" y="32.30" font-size="8.8" font-weight="bold" text-anchor="start" fill="#148580" stroke="#148580" stroke-width="0.3" >AuE-Ni-N-C/Ti<tspan font-size="6.6" dy="2.5">3</tspan><tspan dy="-2.5">C</tspan><tspan font-size="6.6" dy="2.5">2</tspan><tspan dy="-2.5">T</tspan><tspan font-size="6.6" dy="2.5">x</tspan></text>
<rect x="515.10" y="38.60" width="13.10" height="8.20" fill="url(#gGray)" />
<text x="531.00" y="45.30" font-size="8.8" font-weight="bold" text-anchor="start" fill="#8e8e8e" stroke="#8e8e8e" stroke-width="0.3" >AuE-Ni NPs/N-C</text>
<rect x="515.10" y="49.70" width="13.10" height="8.20" fill="url(#gBlue)" />
<text x="531.00" y="56.40" font-size="8.8" font-weight="bold" text-anchor="start" fill="#2f5480" stroke="#2f5480" stroke-width="0.3" >AuE-N-C</text>
<rect x="515.10" y="61.20" width="13.10" height="8.20" fill="url(#gOrange)" />
<text x="531.00" y="67.90" font-size="8.8" font-weight="bold" text-anchor="start" fill="#f39427" stroke="#f39427" stroke-width="0.3" >AuE-Ni-N-C</text>
<text x="0.80" y="211.20" font-size="19.5" font-weight="bold" text-anchor="start" fill="#1a1a1a" stroke="#1a1a1a" stroke-width="0.3" >d</text>
<rect x="57.10" y="215.20" width="22.90" height="137.50" fill="#f2f2f2" />
<rect x="82.40" y="215.20" width="51.20" height="137.50" fill="#f2f2f2" />
<rect x="135.60" y="215.20" width="68.70" height="137.50" fill="#f2f2f2" />
<rect x="44.20" y="214.70" width="172.10" height="138.50" fill="none" stroke="#262626" stroke-width="1.2"/>
<line x1="41.70" y1="231.10" x2="44.20" y2="231.10" stroke="#262626" stroke-width="0.9" />
<text x="38.80" y="234.30" font-size="8.8" font-weight="bold" text-anchor="end" fill="#1a1a1a" stroke="#1a1a1a" stroke-width="0.3" >0.16</text>
<line x1="41.70" y1="263.70" x2="44.20" y2="263.70" stroke="#262626" stroke-width="0.9" />
<text x="38.80" y="266.90" font-size="8.8" font-weight="bold" text-anchor="end" fill="#1a1a1a" stroke="#1a1a1a" stroke-width="0.3" >0.18</text>
<line x1="41.70" y1="296.30" x2="44.20" y2="296.30" stroke="#262626" stroke-width="0.9" />
<text x="38.80" y="299.50" font-size="8.8" font-weight="bold" text-anchor="end" fill="#1a1a1a" stroke="#1a1a1a" stroke-width="0.3" >0.20</text>
<line x1="41.70" y1="328.90" x2="44.20" y2="328.90" stroke="#262626" stroke-width="0.9" />
<text x="38.80" y="332.10" font-size="8.8" font-weight="bold" text-anchor="end" fill="#1a1a1a" stroke="#1a1a1a" stroke-width="0.3" >0.22</text>
<line x1="42.70" y1="214.80" x2="44.20" y2="214.80" stroke="#262626" stroke-width="0.9" />
<line x1="42.70" y1="247.40" x2="44.20" y2="247.40" stroke="#262626" stroke-width="0.9" />
<line x1="42.70" y1="280.00" x2="44.20" y2="280.00" stroke="#262626" stroke-width="0.9" />
<line x1="42.70" y1="312.60" x2="44.20" y2="312.60" stroke="#262626" stroke-width="0.9" />
<line x1="42.70" y1="345.20" x2="44.20" y2="345.20" stroke="#262626" stroke-width="0.9" />
<line x1="57.15" y1="353.20" x2="57.15" y2="355.70" stroke="#262626" stroke-width="0.9" />
<text x="57.15" y="364.80" font-size="8.8" font-weight="bold" text-anchor="middle" fill="#1a1a1a" stroke="#1a1a1a" stroke-width="0.3" >0</text>
<line x1="88.50" y1="353.20" x2="88.50" y2="355.70" stroke="#262626" stroke-width="0.9" />
<text x="88.50" y="364.80" font-size="8.8" font-weight="bold" text-anchor="middle" fill="#1a1a1a" stroke="#1a1a1a" stroke-width="0.3" >600</text>
<line x1="119.85" y1="353.20" x2="119.85" y2="355.70" stroke="#262626" stroke-width="0.9" />
<text x="119.85" y="364.80" font-size="8.8" font-weight="bold" text-anchor="middle" fill="#1a1a1a" stroke="#1a1a1a" stroke-width="0.3" >1200</text>
<line x1="151.20" y1="353.20" x2="151.20" y2="355.70" stroke="#262626" stroke-width="0.9" />
<text x="151.20" y="364.80" font-size="8.8" font-weight="bold" text-anchor="middle" fill="#1a1a1a" stroke="#1a1a1a" stroke-width="0.3" >1800</text>
<line x1="182.55" y1="353.20" x2="182.55" y2="355.70" stroke="#262626" stroke-width="0.9" />
<text x="182.55" y="364.80" font-size="8.8" font-weight="bold" text-anchor="middle" fill="#1a1a1a" stroke="#1a1a1a" stroke-width="0.3" >2400</text>
<line x1="213.90" y1="353.20" x2="213.90" y2="355.70" stroke="#262626" stroke-width="0.9" />
<text x="213.90" y="364.80" font-size="8.8" font-weight="bold" text-anchor="middle" fill="#1a1a1a" stroke="#1a1a1a" stroke-width="0.3" >3000</text>
<line x1="72.83" y1="353.20" x2="72.83" y2="354.70" stroke="#262626" stroke-width="0.9" />
<line x1="104.18" y1="353.20" x2="104.18" y2="354.70" stroke="#262626" stroke-width="0.9" />
<line x1="135.53" y1="353.20" x2="135.53" y2="354.70" stroke="#262626" stroke-width="0.9" />
<line x1="166.88" y1="353.20" x2="166.88" y2="354.70" stroke="#262626" stroke-width="0.9" />
<line x1="198.23" y1="353.20" x2="198.23" y2="354.70" stroke="#262626" stroke-width="0.9" />
<text x="130.60" y="378.00" font-size="11.8" font-weight="bold" text-anchor="middle" fill="#1a1a1a" stroke="#1a1a1a" stroke-width="0.3" >Time (s)</text>
<text x="16.20" y="283.60" font-size="12.6" font-weight="bold" text-anchor="middle" fill="#1a1a1a" stroke="#1a1a1a" stroke-width="0.3" transform="rotate(-90 16.2 283.6)">Resistance <tspan font-family="Liberation Serif" font-weight="normal">(M&#937;)</tspan></text>
<text x="54.60" y="300.60" font-size="9.1" font-weight="bold" text-anchor="start" fill="#1a1a1a" stroke="#1a1a1a" stroke-width="0.3" >1 ppm</text>
<text x="93.00" y="254.80" font-size="9.1" font-weight="bold" text-anchor="start" fill="#1a1a1a" stroke="#1a1a1a" stroke-width="0.3" >5 ppm</text>
<text x="152.80" y="228.10" font-size="9.1" font-weight="bold" text-anchor="start" fill="#1a1a1a" stroke="#1a1a1a" stroke-width="0.3" >10 ppm</text>
<path d="M57.00,336.90 L57.55,325.28 L58.10,315.79 L58.65,308.83 L59.20,305.40 L59.64,316.12 L60.08,324.55 L60.52,331.18 L60.96,336.40 L61.40,340.50 L62.12,327.70 L62.85,317.25 L63.57,309.58 L64.30,305.80 L64.72,316.55 L65.14,325.00 L65.56,331.65 L65.98,336.88 L66.40,341.00 L67.12,328.16 L67.85,317.68 L68.58,309.99 L69.30,306.20 L69.74,316.98 L70.18,325.46 L70.62,332.13 L71.06,337.37 L71.50,341.50 L72.10,328.63 L72.70,318.11 L73.30,310.40 L73.90,306.60 L74.28,317.41 L74.66,325.91 L75.04,332.60 L75.42,337.86 L75.80,342.00 L76.45,329.27 L77.10,318.88 L77.75,311.25 L78.40,307.50 L78.76,318.03 L79.12,326.32 L79.48,332.84 L79.84,337.97 L80.20,342.00" fill="none" stroke="#148580" stroke-width="1.5" stroke-linejoin="round" stroke-linecap="round" />
<path d="M82.70,339.20 L83.35,310.65 L84.00,287.33 L84.65,270.22 L85.30,261.80 L85.90,272.70 L86.50,282.28 L87.10,290.71 L87.70,298.12 L88.30,304.64 L88.90,310.37 L89.50,315.41 L90.10,319.84 L90.70,323.73 L91.30,327.16 L91.90,330.17 L92.50,332.82 L93.10,335.15 L93.70,337.20 L94.22,310.05 L94.75,287.88 L95.28,271.61 L95.80,263.60 L96.36,274.46 L96.93,284.00 L97.49,292.39 L98.06,299.78 L98.62,306.27 L99.19,311.97 L99.75,316.99 L100.31,321.41 L100.88,325.29 L101.44,328.70 L102.01,331.70 L102.57,334.34 L103.14,336.66 L103.70,338.70 L104.17,310.33 L104.65,287.17 L105.12,270.17 L105.60,261.80 L106.20,272.96 L106.80,282.77 L107.40,291.40 L108.00,298.99 L108.60,305.66 L109.20,311.53 L109.80,316.69 L110.40,321.22 L111.00,325.21 L111.60,328.72 L112.20,331.80 L112.80,334.52 L113.40,336.90 L114.00,339.00 L114.38,310.04 L114.75,286.40 L115.12,269.04 L115.50,260.50 L116.11,271.85 L116.71,281.82 L117.32,290.60 L117.93,298.31 L118.54,305.10 L119.14,311.06 L119.75,316.31 L120.36,320.92 L120.96,324.98 L121.57,328.55 L122.18,331.68 L122.79,334.44 L123.39,336.87 L124.00,339.00 L124.30,309.56 L124.60,285.52 L124.90,267.88 L125.20,259.20 L125.76,270.81 L126.33,281.01 L126.89,289.99 L127.46,297.88 L128.02,304.82 L128.59,310.92 L129.15,316.29 L129.71,321.01 L130.28,325.16 L130.84,328.81 L131.41,332.02 L131.97,334.84 L132.54,337.32 L133.10,339.50" fill="none" stroke="#148580" stroke-width="1.5" stroke-linejoin="round" stroke-linecap="round" />
<path d="M135.90,340.00 L136.45,301.82 L137.00,270.64 L137.55,247.76 L138.10,236.50 L138.85,253.39 L139.60,267.83 L140.35,280.17 L141.10,290.71 L141.85,299.72 L142.60,307.42 L143.35,314.00 L144.10,319.63 L144.85,324.43 L145.60,328.54 L146.35,332.05 L147.10,335.05 L147.85,337.61 L148.60,339.80 L149.25,301.69 L149.90,270.58 L150.55,247.74 L151.20,236.50 L151.97,253.39 L152.74,267.83 L153.51,280.17 L154.29,290.71 L155.06,299.72 L155.83,307.42 L156.60,314.00 L157.37,319.63 L158.14,324.43 L158.91,328.54 L159.69,332.05 L160.46,335.05 L161.23,337.61 L162.00,339.80 L162.72,301.51 L163.45,270.24 L164.18,247.30 L164.90,236.00 L165.66,252.98 L166.41,267.48 L167.17,279.88 L167.93,290.47 L168.69,299.53 L169.44,307.26 L170.20,313.88 L170.96,319.53 L171.71,324.36 L172.47,328.48 L173.23,332.01 L173.99,335.02 L174.74,337.60 L175.50,339.80 L176.10,301.51 L176.70,270.24 L177.30,247.30 L177.90,236.00 L178.69,252.98 L179.47,267.48 L180.26,279.88 L181.04,290.47 L181.83,299.53 L182.61,307.26 L183.40,313.88 L184.19,319.53 L184.97,324.36 L185.76,328.48 L186.54,332.01 L187.33,335.02 L188.11,337.60 L188.90,339.80 L189.57,301.51 L190.25,270.24 L190.93,247.30 L191.60,236.00 L192.49,252.98 L193.39,267.48 L194.28,279.88 L195.17,290.47 L196.06,299.53 L196.96,307.26 L197.85,313.88 L198.74,319.53 L199.64,324.36 L200.53,328.48 L201.42,332.01 L202.31,335.02 L203.21,337.60 L204.10,339.80" fill="none" stroke="#148580" stroke-width="1.5" stroke-linejoin="round" stroke-linecap="round" />
<text x="244.80" y="211.40" font-size="19" font-weight="bold" text-anchor="start" fill="#1a1a1a" stroke="#1a1a1a" stroke-width="0.3" >e</text>
<rect x="282.00" y="214.30" width="172.60" height="138.70" fill="none" stroke="#262626" stroke-width="1.2"/>
<line x1="279.50" y1="226.90" x2="282.00" y2="226.90" stroke="#262626" stroke-width="0.9" />
<text x="277.30" y="230.10" font-size="8.8" font-weight="bold" text-anchor="end" fill="#1a1a1a" stroke="#1a1a1a" stroke-width="0.3" >0.04</text>
<line x1="279.50" y1="252.60" x2="282.00" y2="252.60" stroke="#262626" stroke-width="0.9" />
<text x="277.30" y="255.80" font-size="8.8" font-weight="bold" text-anchor="end" fill="#1a1a1a" stroke="#1a1a1a" stroke-width="0.3" >0.08</text>
<line x1="279.50" y1="278.30" x2="282.00" y2="278.30" stroke="#262626" stroke-width="0.9" />
<text x="277.30" y="281.50" font-size="8.8" font-weight="bold" text-anchor="end" fill="#1a1a1a" stroke="#1a1a1a" stroke-width="0.3" >0.12</text>
<line x1="279.50" y1="304.00" x2="282.00" y2="304.00" stroke="#262626" stroke-width="0.9" />
<text x="277.30" y="307.20" font-size="8.8" font-weight="bold" text-anchor="end" fill="#1a1a1a" stroke="#1a1a1a" stroke-width="0.3" >0.16</text>
<line x1="279.50" y1="329.70" x2="282.00" y2="329.70" stroke="#262626" stroke-width="0.9" />
<text x="277.30" y="332.90" font-size="8.8" font-weight="bold" text-anchor="end" fill="#1a1a1a" stroke="#1a1a1a" stroke-width="0.3" >0.20</text>
<line x1="280.50" y1="239.75" x2="282.00" y2="239.75" stroke="#262626" stroke-width="0.9" />
<line x1="280.50" y1="265.45" x2="282.00" y2="265.45" stroke="#262626" stroke-width="0.9" />
<line x1="280.50" y1="291.15" x2="282.00" y2="291.15" stroke="#262626" stroke-width="0.9" />
<line x1="280.50" y1="316.85" x2="282.00" y2="316.85" stroke="#262626" stroke-width="0.9" />
<line x1="280.50" y1="342.55" x2="282.00" y2="342.55" stroke="#262626" stroke-width="0.9" />
<line x1="285.30" y1="353.00" x2="285.30" y2="355.50" stroke="#262626" stroke-width="0.9" />
<text x="285.30" y="365.20" font-size="8.8" font-weight="bold" text-anchor="middle" fill="#1a1a1a" stroke="#1a1a1a" stroke-width="0.3" >0</text>
<line x1="319.00" y1="353.00" x2="319.00" y2="355.50" stroke="#262626" stroke-width="0.9" />
<text x="319.00" y="365.20" font-size="8.8" font-weight="bold" text-anchor="middle" fill="#1a1a1a" stroke="#1a1a1a" stroke-width="0.3" >500</text>
<line x1="352.70" y1="353.00" x2="352.70" y2="355.50" stroke="#262626" stroke-width="0.9" />
<text x="352.70" y="365.20" font-size="8.8" font-weight="bold" text-anchor="middle" fill="#1a1a1a" stroke="#1a1a1a" stroke-width="0.3" >1000</text>
<line x1="386.40" y1="353.00" x2="386.40" y2="355.50" stroke="#262626" stroke-width="0.9" />
<text x="386.40" y="365.20" font-size="8.8" font-weight="bold" text-anchor="middle" fill="#1a1a1a" stroke="#1a1a1a" stroke-width="0.3" >1500</text>
<line x1="420.10" y1="353.00" x2="420.10" y2="355.50" stroke="#262626" stroke-width="0.9" />
<text x="420.10" y="365.20" font-size="8.8" font-weight="bold" text-anchor="middle" fill="#1a1a1a" stroke="#1a1a1a" stroke-width="0.3" >2000</text>
<line x1="453.80" y1="353.00" x2="453.80" y2="355.50" stroke="#262626" stroke-width="0.9" />
<text x="453.80" y="365.20" font-size="8.8" font-weight="bold" text-anchor="middle" fill="#1a1a1a" stroke="#1a1a1a" stroke-width="0.3" >2500</text>
<line x1="302.15" y1="353.00" x2="302.15" y2="354.50" stroke="#262626" stroke-width="0.9" />
<line x1="335.85" y1="353.00" x2="335.85" y2="354.50" stroke="#262626" stroke-width="0.9" />
<line x1="369.55" y1="353.00" x2="369.55" y2="354.50" stroke="#262626" stroke-width="0.9" />
<line x1="403.25" y1="353.00" x2="403.25" y2="354.50" stroke="#262626" stroke-width="0.9" />
<line x1="436.95" y1="353.00" x2="436.95" y2="354.50" stroke="#262626" stroke-width="0.9" />
<text x="377.40" y="377.00" font-size="11.8" font-weight="bold" text-anchor="middle" fill="#1a1a1a" stroke="#1a1a1a" stroke-width="0.3" >Time (s)</text>
<text x="256.00" y="283.60" font-size="12.6" font-weight="bold" text-anchor="middle" fill="#1a1a1a" stroke="#1a1a1a" stroke-width="0.3" transform="rotate(-90 256.0 283.6)">Resistance <tspan font-family="Liberation Serif" font-weight="normal">(M&#937;)</tspan></text>
<text x="405.50" y="229.20" font-size="11.5" font-weight="normal" text-anchor="start" fill="#1a1a1a" stroke="#1a1a1a" stroke-width="0.15" >unit:ppm</text>
<path d="M285.30,346.10 L286.00,341.75 L286.70,338.19 L287.40,335.58 L288.10,334.30 L288.50,338.30 L288.90,341.17 L289.30,343.22 L289.70,344.69 L290.10,345.74 L290.50,346.50 L292.10,347.40 L292.78,340.76 L293.45,335.34 L294.12,331.36 L294.80,329.40 L295.03,331.63 L295.26,333.59 L295.49,335.32 L295.72,336.85 L295.95,338.20 L296.18,339.40 L296.40,340.45 L296.63,341.37 L296.86,342.19 L297.09,342.92 L297.32,343.55 L297.55,344.12 L297.78,344.61 L298.01,345.05 L298.24,345.44 L298.47,345.78 L298.70,346.08 L298.93,346.35 L299.15,346.58 L299.38,346.79 L299.61,346.97 L299.84,347.13 L300.07,347.27 L300.30,347.40 L300.98,338.92 L301.65,331.99 L302.32,326.90 L303.00,324.40 L303.35,327.24 L303.71,329.75 L304.06,331.97 L304.42,333.92 L304.77,335.65 L305.12,337.17 L305.48,338.51 L305.83,339.70 L306.19,340.75 L306.54,341.67 L306.90,342.49 L307.25,343.20 L307.60,343.84 L307.96,344.40 L308.31,344.89 L308.67,345.33 L309.02,345.71 L309.38,346.05 L309.73,346.35 L310.08,346.62 L310.44,346.85 L310.79,347.06 L311.15,347.24 L311.50,347.40 L312.23,337.88 L312.95,330.11 L313.67,324.41 L314.40,321.60 L314.80,324.58 L315.20,327.21 L315.60,329.53 L316.00,331.58 L316.40,333.39 L316.80,334.98 L317.20,336.39 L317.60,337.63 L318.00,338.73 L318.40,339.70 L318.80,340.55 L319.20,341.30 L319.60,341.97 L320.00,342.56 L320.40,343.07 L320.80,343.53 L321.20,343.93 L321.60,344.29 L322.00,344.60 L322.40,344.88 L322.80,345.13 L323.20,345.34 L323.60,345.53 L324.00,345.70 L324.82,335.19 L325.65,326.60 L326.48,320.30 L327.30,317.20 L327.75,320.69 L328.21,323.76 L328.66,326.48 L329.12,328.88 L329.57,330.99 L330.02,332.86 L330.48,334.51 L330.93,335.96 L331.39,337.24 L331.84,338.37 L332.30,339.37 L332.75,340.26 L333.20,341.03 L333.66,341.72 L334.11,342.33 L334.57,342.86 L335.02,343.33 L335.48,343.75 L335.93,344.12 L336.38,344.44 L336.84,344.73 L337.29,344.98 L337.75,345.20 L338.20,345.40 L338.85,330.83 L339.50,318.93 L340.15,310.20 L340.80,305.90 L341.39,310.67 L341.98,314.89 L342.56,318.60 L343.15,321.88 L343.74,324.78 L344.32,327.33 L344.91,329.59 L345.50,331.58 L346.09,333.33 L346.68,334.88 L347.26,336.25 L347.85,337.46 L348.44,338.52 L349.02,339.46 L349.61,340.29 L350.20,341.02 L350.79,341.67 L351.38,342.24 L351.96,342.74 L352.55,343.19 L353.14,343.58 L353.72,343.93 L354.31,344.23 L354.90,344.50 L355.50,322.99 L356.10,305.43 L356.70,292.54 L357.30,286.20 L358.07,293.19 L358.83,299.35 L359.60,304.79 L360.37,309.60 L361.13,313.83 L361.90,317.57 L362.67,320.87 L363.43,323.79 L364.20,326.36 L364.97,328.62 L365.73,330.63 L366.50,332.39 L367.27,333.95 L368.03,335.33 L368.80,336.54 L369.57,337.61 L370.33,338.56 L371.10,339.39 L371.87,340.13 L372.63,340.78 L373.40,341.35 L374.17,341.86 L374.93,342.31 L375.70,342.70 L376.23,319.46 L376.75,300.48 L377.27,286.56 L377.80,279.70 L378.73,287.26 L379.66,293.92 L380.59,299.81 L381.52,305.00 L382.45,309.58 L383.38,313.63 L384.30,317.20 L385.23,320.35 L386.16,323.13 L387.09,325.58 L388.02,327.74 L388.95,329.65 L389.88,331.34 L390.81,332.83 L391.74,334.14 L392.67,335.30 L393.60,336.32 L394.53,337.22 L395.45,338.02 L396.38,338.72 L397.31,339.34 L398.24,339.89 L399.17,340.37 L400.10,340.80 L400.35,317.08 L400.60,297.71 L400.85,283.50 L401.10,276.50 L402.02,284.46 L402.93,291.49 L403.85,297.69 L404.77,303.17 L405.68,308.00 L406.60,312.26 L407.52,316.02 L408.43,319.34 L409.35,322.27 L410.27,324.86 L411.18,327.14 L412.10,329.15 L413.02,330.93 L413.93,332.50 L414.85,333.88 L415.77,335.10 L416.68,336.18 L417.60,337.13 L418.52,337.97 L419.43,338.71 L420.35,339.36 L421.27,339.94 L422.18,340.45 L423.10,340.90 L423.80,316.11 L424.50,295.87 L425.20,281.01 L425.90,273.70 L426.97,281.95 L428.03,289.23 L429.10,295.65 L430.17,301.32 L431.23,306.32 L432.30,310.74 L433.37,314.63 L434.43,318.07 L435.50,321.11 L436.57,323.78 L437.63,326.15 L438.70,328.23 L439.77,330.07 L440.83,331.70 L441.90,333.13 L442.97,334.39 L444.03,335.51 L445.10,336.50 L446.17,337.37 L447.23,338.13 L448.30,338.81 L449.37,339.41 L450.43,339.93 L451.50,340.40" fill="none" stroke="#148580" stroke-width="1.6" stroke-linejoin="round" stroke-linecap="round" />
<text transform="translate(286.80,333.10) scale(0.95,1)" font-size="9.4" fill="#1a1a1a" stroke="#1a1a1a" stroke-width="0.12">1</text>
<text transform="translate(294.70,327.20) scale(0.95,1)" font-size="9.4" fill="#1a1a1a" stroke="#1a1a1a" stroke-width="0.12">2</text>
<text transform="translate(303.60,323.90) scale(0.95,1)" font-size="9.4" fill="#1a1a1a" stroke="#1a1a1a" stroke-width="0.12">3</text>
<text transform="translate(312.20,319.90) scale(0.95,1)" font-size="9.4" fill="#1a1a1a" stroke="#1a1a1a" stroke-width="0.12">4</text>
<text transform="translate(324.60,315.80) scale(0.95,1)" font-size="9.4" fill="#1a1a1a" stroke="#1a1a1a" stroke-width="0.12">5</text>
<text transform="translate(336.30,304.40) scale(0.95,1)" font-size="9.4" fill="#1a1a1a" stroke="#1a1a1a" stroke-width="0.12">10</text>
<text transform="translate(352.80,285.10) scale(0.95,1)" font-size="9.4" fill="#1a1a1a" stroke="#1a1a1a" stroke-width="0.12">20</text>
<text transform="translate(375.70,277.80) scale(0.95,1)" font-size="9.4" fill="#1a1a1a" stroke="#1a1a1a" stroke-width="0.12">30</text>
<text transform="translate(397.80,274.70) scale(0.95,1)" font-size="9.4" fill="#1a1a1a" stroke="#1a1a1a" stroke-width="0.12">40</text>
<text transform="translate(420.30,272.30) scale(0.95,1)" font-size="9.4" fill="#1a1a1a" stroke="#1a1a1a" stroke-width="0.12">50</text>
<rect x="300.10" y="218.30" width="52.00" height="44.10" fill="none" stroke="#262626" stroke-width="0.8"/>
<line x1="298.80" y1="262.20" x2="300.10" y2="262.20" stroke="#262626" stroke-width="0.6" />
<text x="298.30" y="264.10" font-size="5.6" font-weight="normal" text-anchor="end" fill="#1a1a1a" stroke="#1a1a1a" stroke-width="0.08" >0</text>
<line x1="298.80" y1="246.20" x2="300.10" y2="246.20" stroke="#262626" stroke-width="0.6" />
<text x="298.30" y="248.10" font-size="5.6" font-weight="normal" text-anchor="end" fill="#1a1a1a" stroke="#1a1a1a" stroke-width="0.08" >20</text>
<line x1="298.80" y1="230.20" x2="300.10" y2="230.20" stroke="#262626" stroke-width="0.6" />
<text x="298.30" y="232.10" font-size="5.6" font-weight="normal" text-anchor="end" fill="#1a1a1a" stroke="#1a1a1a" stroke-width="0.08" >40</text>
<line x1="304.90" y1="262.40" x2="304.90" y2="263.70" stroke="#262626" stroke-width="0.6" />
<text x="304.90" y="267.40" font-size="5.6" font-weight="normal" text-anchor="middle" fill="#1a1a1a" stroke="#1a1a1a" stroke-width="0.08" >0</text>
<line x1="313.42" y1="262.40" x2="313.42" y2="263.70" stroke="#262626" stroke-width="0.6" />
<text x="313.42" y="267.40" font-size="5.6" font-weight="normal" text-anchor="middle" fill="#1a1a1a" stroke="#1a1a1a" stroke-width="0.08" >10</text>
<line x1="321.94" y1="262.40" x2="321.94" y2="263.70" stroke="#262626" stroke-width="0.6" />
<text x="321.94" y="267.40" font-size="5.6" font-weight="normal" text-anchor="middle" fill="#1a1a1a" stroke="#1a1a1a" stroke-width="0.08" >20</text>
<line x1="330.46" y1="262.40" x2="330.46" y2="263.70" stroke="#262626" stroke-width="0.6" />
<text x="330.46" y="267.40" font-size="5.6" font-weight="normal" text-anchor="middle" fill="#1a1a1a" stroke="#1a1a1a" stroke-width="0.08" >30</text>
<line x1="338.98" y1="262.40" x2="338.98" y2="263.70" stroke="#262626" stroke-width="0.6" />
<text x="338.98" y="267.40" font-size="5.6" font-weight="normal" text-anchor="middle" fill="#1a1a1a" stroke="#1a1a1a" stroke-width="0.08" >40</text>
<line x1="347.50" y1="262.40" x2="347.50" y2="263.70" stroke="#262626" stroke-width="0.6" />
<text x="347.50" y="267.40" font-size="5.6" font-weight="normal" text-anchor="middle" fill="#1a1a1a" stroke="#1a1a1a" stroke-width="0.08" >50</text>
<text x="326.20" y="273.20" font-size="6.3" font-weight="bold" text-anchor="middle" fill="#1a1a1a" >Concentration (ppm)</text>
<text x="290.60" y="240.00" font-size="6.2" font-weight="bold" text-anchor="middle" fill="#1a1a1a" stroke="#1a1a1a" stroke-width="0.1" transform="rotate(-90 290.6 240.0)">Response (%)</text>
<path d="M305.75,255.16 L306.60,253.00 L307.46,250.60 L308.31,248.20 L309.16,246.04 L313.42,240.36 L321.94,229.72 L330.46,226.68 L338.98,224.28 L347.50,223.16" fill="none" stroke="#148580" stroke-width="1.0" stroke-linejoin="round" stroke-linecap="round" />
<circle cx="305.75" cy="255.16" r="1.5" fill="#148580"/>
<circle cx="306.60" cy="253.00" r="1.5" fill="#148580"/>
<circle cx="307.46" cy="250.60" r="1.5" fill="#148580"/>
<circle cx="308.31" cy="248.20" r="1.5" fill="#148580"/>
<circle cx="309.16" cy="246.04" r="1.5" fill="#148580"/>
<circle cx="313.42" cy="240.36" r="1.5" fill="#148580"/>
<circle cx="321.94" cy="229.72" r="1.5" fill="#148580"/>
<circle cx="330.46" cy="226.68" r="1.5" fill="#148580"/>
<circle cx="338.98" cy="224.28" r="1.5" fill="#148580"/>
<circle cx="347.50" cy="223.16" r="1.5" fill="#148580"/>
<text x="476.00" y="209.90" font-size="19" font-weight="bold" text-anchor="start" fill="#1a1a1a" stroke="#1a1a1a" stroke-width="0.3" >f</text>
<line x1="511.00" y1="213.50" x2="683.00" y2="213.50" stroke="#333" stroke-width="1.2" />
<line x1="683.00" y1="213.50" x2="683.00" y2="351.80" stroke="#333" stroke-width="1.2" />
<rect x="522.00" y="228.90" width="21.60" height="122.90" fill="url(#gTeal)" />
<rect x="565.00" y="245.80" width="21.60" height="106.00" fill="url(#gTeal)" />
<rect x="608.00" y="277.20" width="21.60" height="74.60" fill="url(#gTeal)" />
<rect x="651.20" y="301.00" width="21.60" height="50.80" fill="url(#gTeal)" />
<line x1="511.00" y1="351.80" x2="683.00" y2="351.80" stroke="#262626" stroke-width="1.2" />
<line x1="511.00" y1="213.50" x2="511.00" y2="351.80" stroke="#262626" stroke-width="1.2" />
<line x1="508.50" y1="351.80" x2="511.00" y2="351.80" stroke="#262626" stroke-width="0.9" />
<text x="507.30" y="354.10" font-size="9.0" font-weight="bold" text-anchor="end" fill="#1a1a1a" stroke="#1a1a1a" stroke-width="0.3" >0</text>
<line x1="508.50" y1="321.20" x2="511.00" y2="321.20" stroke="#262626" stroke-width="0.9" />
<text x="507.30" y="323.50" font-size="9.0" font-weight="bold" text-anchor="end" fill="#1a1a1a" stroke="#1a1a1a" stroke-width="0.3" >5</text>
<line x1="508.50" y1="290.60" x2="511.00" y2="290.60" stroke="#262626" stroke-width="0.9" />
<text x="507.30" y="292.90" font-size="9.0" font-weight="bold" text-anchor="end" fill="#1a1a1a" stroke="#1a1a1a" stroke-width="0.3" >10</text>
<line x1="508.50" y1="260.00" x2="511.00" y2="260.00" stroke="#262626" stroke-width="0.9" />
<text x="507.30" y="262.30" font-size="9.0" font-weight="bold" text-anchor="end" fill="#1a1a1a" stroke="#1a1a1a" stroke-width="0.3" >15</text>
<line x1="508.50" y1="229.40" x2="511.00" y2="229.40" stroke="#262626" stroke-width="0.9" />
<text x="507.30" y="231.70" font-size="9.0" font-weight="bold" text-anchor="end" fill="#1a1a1a" stroke="#1a1a1a" stroke-width="0.3" >20</text>
<line x1="509.50" y1="336.50" x2="511.00" y2="336.50" stroke="#262626" stroke-width="0.9" />
<line x1="509.50" y1="305.90" x2="511.00" y2="305.90" stroke="#262626" stroke-width="0.9" />
<line x1="509.50" y1="275.30" x2="511.00" y2="275.30" stroke="#262626" stroke-width="0.9" />
<line x1="509.50" y1="244.70" x2="511.00" y2="244.70" stroke="#262626" stroke-width="0.9" />
<path d="M532.20,229.20 L575.20,246.20 L618.40,277.00 L661.00,300.90" fill="none" stroke="#111" stroke-width="1.1" stroke-linejoin="round" stroke-linecap="round" />
<circle cx="532.20" cy="229.20" r="3.8" fill="url(#gBall)"/>
<circle cx="575.20" cy="246.20" r="3.8" fill="url(#gBall)"/>
<circle cx="618.40" cy="277.00" r="3.8" fill="url(#gBall)"/>
<circle cx="661.00" cy="300.90" r="3.8" fill="url(#gBall)"/>
<text x="533.90" y="361.80" font-size="9.1" font-weight="bold" text-anchor="middle" fill="#1a1a1a" stroke="#1a1a1a" stroke-width="0.3" >30%RH</text>
<text x="576.30" y="361.80" font-size="9.1" font-weight="bold" text-anchor="middle" fill="#1a1a1a" stroke="#1a1a1a" stroke-width="0.3" >50%RH</text>
<text x="618.80" y="361.80" font-size="9.1" font-weight="bold" text-anchor="middle" fill="#1a1a1a" stroke="#1a1a1a" stroke-width="0.3" >70%RH</text>
<text x="661.60" y="361.80" font-size="9.1" font-weight="bold" text-anchor="middle" fill="#1a1a1a" stroke="#1a1a1a" stroke-width="0.3" >90%RH</text>
<text x="492.20" y="282.00" font-size="11.5" font-weight="bold" text-anchor="middle" fill="#1a1a1a" stroke="#1a1a1a" stroke-width="0.3" transform="rotate(-90 492.2 282.0)">Response (%)</text></svg>
</body></html>
